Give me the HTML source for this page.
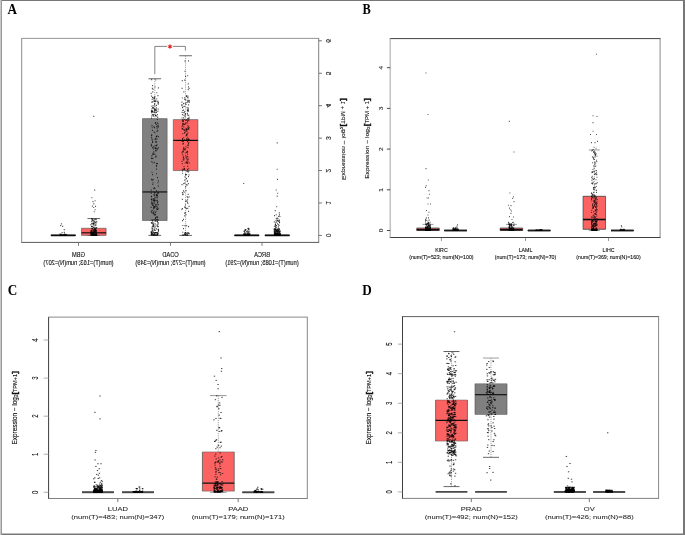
<!DOCTYPE html>
<html><head><meta charset="utf-8"><style>
html,body{margin:0;padding:0;background:#fff;width:685px;height:535px;overflow:hidden}
svg{display:block}
text{font-family:"Liberation Sans",sans-serif}
</style></head><body>
<svg width="685" height="535" viewBox="0 0 685 535">
<defs><filter id="bl" x="0" y="0" width="1" height="1"><feGaussianBlur stdDeviation="0.35"/></filter></defs>
<g filter="url(#bl)">
<rect width="685" height="535" fill="#fff"/>
<g transform="matrix(-1,0,0,1,340.4,0)">
<rect x="50.9" y="235.4" width="24.6" height="0.01" fill="#fb6464"/>
<line x1="50.9" y1="235.4" x2="75.5" y2="235.4" stroke="#555" stroke-width="0.64" />
<line x1="50.9" y1="235.4" x2="75.5" y2="235.4" stroke="#555" stroke-width="0.64" />
<line x1="50.9" y1="235.4" x2="50.9" y2="235.4" stroke="#555" stroke-width="0.64" />
<line x1="75.5" y1="235.4" x2="75.5" y2="235.4" stroke="#555" stroke-width="0.64" />
<line x1="50.9" y1="235.4" x2="75.5" y2="235.4" stroke="#111" stroke-width="1.2" />
<line x1="50.9" y1="235.4" x2="75.5" y2="235.4" stroke="#111" stroke-width="1.7" />
<path d="M60.61,234.45h1M62.3,235.29h1M65.39,232.52h1M60.41,234.97h1M60.08,233.79h1M61.5,234.06h1M61.43,230.87h1M63.71,235.28h1M62.44,233.29h1M65.66,232.2h1M60.4,234.9h1M62.4,235.16h1M65.01,234.34h1M61.28,233.14h1M63.41,233.88h1M62.09,234.24h1M60.02,234.4h1M60.59,232.74h1M62.6,234.03h1M65.41,235.33h1M63.88,227.83h1M61.04,234.43h1M62.81,234.73h1M62.38,220.28h1M60.93,234.82h1M63.66,235.15h1M64.5,234.42h1M60.61,235.03h1M62.99,234.37h1M64.93,234.12h1M62.21,234.64h1M65.21,234.16h1M64.5,235.39h1M64.41,233.69h1M64.26,233.59h1M62.9,234.07h1M65.36,233.62h1M63.72,235.18h1M65.51,226.25h1M62.29,234.92h1M62.34,233.71h1M65.53,229.91h1M65.17,234.16h1M60.05,235.14h1M64.84,235.15h1M60.48,234.61h1M61.53,234.48h1M59.79,234.66h1M62.29,229.42h1M64.69,234.39h1M64.15,235.19h1M61.15,234.57h1M62.98,218.05h1M62.72,234h1M59.83,235.28h1M64.97,231.09h1M64.71,235.27h1M64.71,233.91h1M59.89,234.72h1M63.78,232.54h1M60.1,232.01h1M65.55,230.7h1M60.16,232.27h1M61.31,235.22h1M60.41,234.03h1M65.51,229.4h1M62.84,234.98h1M65.09,234.72h1M61.76,234.99h1M63.98,222.72h1M62.27,234.34h1M61.29,234.66h1M65.18,232.47h1M63.57,230.49h1M64.13,234.52h1M62.7,142.97h1M62.2,193.24h1" stroke="#000" stroke-width="1.2" fill="none" opacity="0.72"/>
<path d="M60.13,232.14h1M60.24,235.19h1M62.08,233.34h1M64.6,234.49h1M60.94,235.22h1M63.89,229.82h1M60.41,214.79h1M63.14,230.3h1M65.37,229.08h1M61.41,229.37h1M64.31,235.23h1M65,233.78h1M60.61,220.18h1M62.21,235.39h1M60.02,231.73h1M63.51,235.09h1M60.61,235.4h1M61.78,234.66h1M60.31,235.15h1M60.58,233.84h1M61.9,234.63h1M65.61,229.54h1M59.87,234.35h1M65.63,221.86h1M65.1,232.58h1M64.39,224.07h1M62.08,218.47h1M64.54,224.47h1M59.79,235.01h1M60.97,229.3h1M65.16,235.01h1M62.89,233.92h1M62.54,234.89h1M63.06,235.09h1M62.36,223.85h1M65.35,233.99h1M60.52,229.08h1M65.08,229.99h1M65.42,234.75h1M61.73,233.88h1M61.69,235.35h1M61.29,235.09h1M61.25,229.42h1M62.25,231.54h1M64.88,235.2h1M61.13,233.85h1M61.44,230.38h1M63.01,230.81h1M64.71,233.94h1M63.52,231.24h1M60.68,234.65h1M62.46,234.54h1M65.49,234.68h1M62.73,234.81h1M61.1,234.5h1M61.66,234.25h1M63.46,225.51h1M64.66,229.65h1M61.86,235.01h1M59.72,233.96h1M61.21,230.75h1M62,233.94h1M61.22,234.97h1M63.85,231.8h1M60.9,225.37h1M61.31,234.07h1M60.5,220.58h1M59.85,233.97h1M64.74,234.47h1M61.44,224.73h1M59.99,234.59h1M60.84,233.89h1M63,221.56h1M59.99,234.56h1M61.26,216.46h1M62.7,169.24h1M62.7,196.16h1" stroke="#000" stroke-width="1.2" fill="none" opacity="0.72"/>
<path d="M61.89,233.82h1M64.66,234.15h1M59.98,216.48h1M63.19,234.87h1M62.27,231.66h1M63.15,234.68h1M64.24,234.17h1M61.58,226.85h1M63.68,234h1M63.71,234.26h1M61.19,235.02h1M64.88,229.41h1M61.09,234.88h1M63.1,234.31h1M64.38,224.9h1M60.1,235.22h1M61.88,235.1h1M60.44,234.33h1M61.29,234.39h1M59.86,233.8h1M64.33,234.91h1M64.54,228.7h1M61.38,235.32h1M61.89,220.4h1M62.58,229.07h1M62.57,230.53h1M65.38,234.22h1M64.66,234.97h1M63.6,218.8h1M61.46,234.66h1M62.45,234.36h1M59.81,233.86h1M63.04,230.94h1M61.36,234.67h1M62.73,232.76h1M64.96,231.36h1M62.35,235.04h1M64,234.94h1M62.62,234.23h1M61.61,234.82h1M62.77,232.58h1M64.37,235.28h1M65.22,234.96h1M65.33,235.19h1M61.73,234.06h1M60.67,235.08h1M60.77,233.93h1M62.55,234.84h1M62.74,234.24h1M61.79,234.21h1M64.75,235.15h1M62.37,234.94h1M61.84,234.49h1M61.29,235.39h1M62.88,233.2h1M60.6,212.82h1M64.57,230.8h1M65.06,233.23h1M64.71,235.09h1M64.19,229.76h1M61.29,235.18h1M63.8,233.99h1M61.53,230.65h1M61.45,231.74h1M65.32,215.67h1M65.37,234.78h1M62.75,229.4h1M62.65,235.39h1M64.2,235.39h1M62.06,234.3h1M64.71,235.1h1M65.44,234.3h1M60,231.03h1M60.46,222.69h1M61.51,232.06h1M62.5,179.3h1" stroke="#000" stroke-width="1.2" fill="none" opacity="0.72"/>
<path d="M62.74,235.23h1M61.04,235.04h1M61.44,228.23h1M61.93,232.34h1M63.21,234.47h1M64.95,233.85h1M62.63,234.95h1M63.27,231.42h1M63.91,235.22h1M62.47,235.33h1M64.93,234.25h1M62.19,234.58h1M62.61,234.71h1M63.84,220.56h1M64.49,226.93h1M60.67,234.78h1M64.95,235.32h1M65.66,228.93h1M60.67,229.26h1M65.57,233.84h1M64.37,233.83h1M64.14,229.43h1M63.86,234.64h1M61.06,234.75h1M64.5,232.11h1M64.43,234.87h1M60.72,230.94h1M63.64,214.73h1M65.3,233.85h1M63.22,234.69h1M65.13,233.24h1M60.8,234.1h1M62.81,234.44h1M62.75,230.17h1M63.86,233.89h1M61.26,221.44h1M61.14,235.19h1M60.56,231.99h1M64.69,210.59h1M59.82,230.99h1M65.61,235.21h1M60.48,234.6h1M63.9,233.44h1M64.51,232.41h1M65.26,233.73h1M60.91,235.25h1M59.81,234.38h1M60.34,222.05h1M65.59,231.55h1M60.48,235.24h1M63.72,227.25h1M65.47,234.62h1M61.99,235.4h1M62.1,235.14h1M63.65,230.53h1M63.56,230.95h1M62.84,234.99h1M63.86,231.62h1M63.47,233.64h1M62.91,233.92h1M60.93,230.87h1M63.4,230.26h1M59.77,233.49h1M62.49,233.88h1M62.45,235.35h1M63.19,234.78h1M63.92,225.93h1M61.51,234.07h1M60.42,229.09h1M63.24,206.74h1M65.31,234.56h1M64.57,226.14h1M62.41,230.82h1M61.76,234.01h1M62.07,233.66h1M63.7,190h1" stroke="#000" stroke-width="1.2" fill="none" opacity="0.72"/>
<rect x="81.3" y="235.4" width="24.6" height="0.01" fill="#808080"/>
<line x1="81.3" y1="235.4" x2="105.9" y2="235.4" stroke="#555" stroke-width="0.64" />
<line x1="81.3" y1="235.4" x2="105.9" y2="235.4" stroke="#555" stroke-width="0.64" />
<line x1="81.3" y1="235.4" x2="81.3" y2="235.4" stroke="#555" stroke-width="0.64" />
<line x1="105.9" y1="235.4" x2="105.9" y2="235.4" stroke="#555" stroke-width="0.64" />
<line x1="81.3" y1="235.4" x2="105.9" y2="235.4" stroke="#111" stroke-width="1.2" />
<line x1="81.3" y1="235.4" x2="105.9" y2="235.4" stroke="#111" stroke-width="1.7" />
<path d="M91.07,235.04h1M90.94,234.43h1M95.42,234.17h1M91.77,235.27h1M91.59,234.81h1M94.36,235.33h1M95.23,232.55h1M94.43,230.67h1M95.62,234.9h1M90.52,235.16h1M92.86,234.75h1M94.33,229.5h1M95.65,233.96h1M94.53,233.02h1M94.66,234.92h1M95.79,233.96h1M92.46,235.27h1M95.72,235h1M90.12,235.03h1M95.03,234.63h1M96.2,183.51h1" stroke="#000" stroke-width="1.2" fill="none" opacity="0.72"/>
<path d="M95.54,234.95h1M90.64,234.98h1M92.58,233.78h1M90.86,228.81h1M92.78,234.54h1M92.94,231.42h1M91.59,228.37h1M94.69,234h1M91.92,234h1M93.6,234.27h1M93.97,229.67h1M90.23,234.74h1M90.3,234.91h1M91.33,234.31h1M95.81,234.76h1M92.46,235.08h1M95.4,231.38h1M90.29,233.79h1M92.21,234.8h1M92.69,232.61h1" stroke="#000" stroke-width="1.2" fill="none" opacity="0.72"/>
<path d="M91.42,234.33h1M90.65,234.66h1M93.25,234.51h1M93.88,234.31h1M95.19,230.15h1M90.1,234.13h1M91.03,235.16h1M93.41,234.41h1M91.61,235.12h1M91.44,234.56h1M92.95,231.61h1M94.15,234.32h1M92.62,234.67h1M91.97,228.6h1M91.22,234.33h1M95.94,234.94h1M96.09,233.82h1M92.37,233.96h1M90.84,230h1M92.94,235.29h1" stroke="#000" stroke-width="1.2" fill="none" opacity="0.72"/>
<path d="M96.08,231.24h1M91.65,234.88h1M92.13,234.59h1M91.4,231.95h1M90.23,231.79h1M95.66,234.55h1M94.19,234.27h1M94.79,235.31h1M94.29,234.02h1M90.16,234.1h1M91.58,234.89h1M91.64,234.49h1M91.29,233.92h1M91.48,232.64h1M92.6,234.92h1M90.41,235.09h1M92.08,230.83h1M92.09,234.59h1M91.34,229.15h1M95.62,234.59h1" stroke="#000" stroke-width="1.2" fill="none" opacity="0.72"/>
<line x1="154.8" y1="55.74" x2="154.8" y2="119.62" stroke="#444" stroke-width="0.5" stroke-dasharray="1.2,1"/>
<line x1="154.8" y1="235.4" x2="154.8" y2="170.54" stroke="#444" stroke-width="0.5" stroke-dasharray="1.2,1"/>
<line x1="148.45" y1="55.74" x2="161.15" y2="55.74" stroke="#444" stroke-width="0.8" />
<line x1="148.45" y1="235.4" x2="161.15" y2="235.4" stroke="#444" stroke-width="0.8" />
<rect x="142.5" y="119.62" width="24.6" height="50.92" fill="#fb6464"/>
<line x1="142.5" y1="119.62" x2="167.1" y2="119.62" stroke="#555" stroke-width="0.64" />
<line x1="142.5" y1="170.54" x2="167.1" y2="170.54" stroke="#555" stroke-width="0.64" />
<line x1="142.5" y1="119.62" x2="142.5" y2="170.54" stroke="#555" stroke-width="0.64" />
<line x1="167.1" y1="119.62" x2="167.1" y2="170.54" stroke="#555" stroke-width="0.64" />
<line x1="142.5" y1="140.38" x2="167.1" y2="140.38" stroke="#111" stroke-width="1.2" />
<path d="M153.3,184.75h1M151.06,233.14h1M155.17,80.04h1M155.29,97.73h1M152.46,154.07h1M156.32,110.06h1M156.17,183.68h1M157.91,102.07h1M153.68,174.48h1M152.77,107.67h1M157.14,194.66h1M155.43,111.94h1M152.77,232.78h1M153.92,104.35h1M153.33,178.61h1M153.02,234.66h1M151.35,226.62h1M152.7,151.26h1M157.97,104.6h1M156.67,149.58h1M157.33,128.7h1M157.45,138.62h1M157.82,88.44h1M151.79,109.82h1M153.56,178.49h1M154.76,232.73h1M152.87,129.83h1M155.18,233.88h1M151.39,143.61h1M151.21,129.05h1M151.61,83.96h1M157.68,141.36h1M151.77,118.81h1M152.55,180.94h1M157.23,125.46h1M154.71,103.45h1M152.56,113.36h1M150.96,120.16h1M150.61,162.98h1M152.28,199.97h1M154.92,176.96h1M151.7,172.14h1M155.37,234.65h1M157.29,170.91h1M154.68,234.6h1M151.89,111.29h1M156.85,234.99h1M150.89,174.96h1M153.83,135.91h1M150.71,102.52h1M153.03,102.51h1M156.81,144.06h1M155.21,180.03h1M151.65,159.1h1M154.97,225.58h1M157.59,98h1M156.71,129.24h1M153.74,162.2h1M154.33,76.42h1M155.81,158.86h1M152.1,235.32h1M154.26,186.87h1M154.29,123.82h1M153.23,129.76h1M152.55,181.49h1M156.18,137.76h1M156.09,126.92h1M152.36,101.85h1M153.02,171.14h1" stroke="#000" stroke-width="1.2" fill="none" opacity="0.72"/>
<path d="M150.82,100.29h1M152.5,97.26h1M155.9,169.07h1M150.78,88.34h1M154.25,148.83h1M153.03,131.48h1M151.08,171.21h1M151.22,168.74h1M155.59,130.39h1M153.36,134.83h1M153.01,133.88h1M151.36,60.93h1M152,203.3h1M156.36,169.34h1M152.11,197.64h1M151.97,125.58h1M154.67,153.01h1M157.65,163.59h1M152.06,156.81h1M157.13,151.69h1M155.2,215.88h1M154.23,207.64h1M150.99,142.46h1M152.24,114.91h1M153.44,138.89h1M150.88,118.64h1M154.91,150.02h1M152.34,141.65h1M153.79,200.86h1M156.35,121h1M157.97,105.54h1M151.82,97.79h1M152.63,100.35h1M152.96,139.88h1M156.41,190.81h1M157.13,133.73h1M154.87,61.2h1M152.48,110.44h1M151.71,233.21h1M150.76,127.67h1M152.11,132.98h1M155.32,213.06h1M153.19,135.21h1M154.53,232.55h1M151.65,89.68h1M152.82,163.38h1M154.04,120.02h1M156.15,160.22h1M154.47,114.57h1M152.35,169.29h1M157.32,173.24h1M156.95,123.97h1M157.34,220.56h1M150.91,233.54h1M156.65,156.86h1M152.12,208.34h1M152.73,129.46h1M152.5,234.04h1M155.18,106.29h1M152.2,137.24h1M157.84,118.02h1M156.76,158.82h1M155.31,207.17h1M153.52,152.29h1M154.31,99.74h1M155.38,119.23h1M153.85,190.61h1M152.83,185.12h1M151.79,138.54h1" stroke="#000" stroke-width="1.2" fill="none" opacity="0.72"/>
<path d="M156.61,151.14h1M157.25,119.85h1M152.64,162.52h1M154.12,174.56h1M151.95,96.2h1M153.28,162.15h1M154.69,233.2h1M154.29,212.8h1M156.87,119.79h1M152.07,120.62h1M157.94,152.92h1M156.66,143.42h1M154.92,71.27h1M151.38,86.93h1M155.04,169.95h1M152.11,163.04h1M151.27,128.83h1M154.79,163.02h1M152.11,121.45h1M151.8,145.1h1M154.33,155.96h1M157.75,112.42h1M153.47,96.46h1M156.86,151.9h1M152.43,202.21h1M151.47,108.02h1M155.48,149.34h1M156.37,117.84h1M153.87,214.76h1M151,139.43h1M156.63,121.11h1M157.49,114.58h1M151.66,110.99h1M151.95,233.01h1M154.53,205.02h1M157.95,209.39h1M156.26,157.24h1M157.88,128.82h1M153.8,130.75h1M153.23,235.23h1M154.11,130.09h1M156.39,103.67h1M153.88,128.29h1M152.36,151.72h1M155.1,183.13h1M157.18,232.25h1M153.95,120.31h1M156.86,124.18h1M155.35,168.69h1M157.59,120.13h1M155.73,129.53h1M155.96,147.95h1M150.8,196.83h1M155.29,124.39h1M157.2,110.48h1M150.85,206.32h1M151.32,211.36h1M155.9,166.61h1M153.66,233.39h1M151.27,104.86h1M154.23,235.12h1M157.58,169.26h1M156.43,219.28h1M151.24,101.16h1M157.14,154.94h1M153.02,158.66h1M154.89,116.54h1M156.84,123.51h1M152,161.12h1" stroke="#000" stroke-width="1.2" fill="none" opacity="0.72"/>
<path d="M150.9,117.43h1M152.62,159.79h1M156.19,235.16h1M157.66,80.57h1M156.06,112.71h1M151.18,115.38h1M157.85,161.4h1M153.91,122.96h1M151.5,126.73h1M152.42,171.18h1M152.31,139.77h1M157.37,107.71h1M153.35,95.85h1M155.19,132.4h1M152.11,127.79h1M154.66,113.67h1M155.75,192.07h1M153.68,157.61h1M157.27,235.02h1M154.68,234.44h1M152.7,196.51h1M151.54,183.68h1M155.19,99.34h1M151.95,109.21h1M157.24,121.71h1M154.67,132.12h1M153.84,146.8h1M151.93,145.41h1M150.9,139.54h1M153.4,140.05h1M157.86,184.58h1M153.2,225.69h1M157.41,140.2h1M157.53,192.68h1M153.26,129.06h1M153.52,129.61h1M151.91,147.34h1M155.51,133.25h1M157.23,139.33h1M153.24,208.66h1M157.53,199.29h1M152.56,152.21h1M156.03,91.84h1M156.36,228.66h1M155.35,139.8h1M155.89,115.29h1M151.38,176.54h1M152.57,122.81h1M152.21,75.76h1M153.02,119.94h1M157.84,126.66h1M152.88,134.54h1M157.47,208.52h1M156.05,124.02h1M157.02,225.51h1M156.61,106.77h1M152.12,118.66h1M152.97,156.3h1M156.32,148.05h1M151.86,110.44h1M156.5,141.41h1M152.19,166.47h1M156.42,124.01h1M150.79,101.42h1M154.01,174.64h1M156.84,194.16h1M154.02,201.46h1M151.75,194.34h1" stroke="#000" stroke-width="1.2" fill="none" opacity="0.72"/>
<line x1="185.6" y1="78.76" x2="185.6" y2="118.65" stroke="#444" stroke-width="0.5" stroke-dasharray="1.2,1"/>
<line x1="185.6" y1="235.4" x2="185.6" y2="220.48" stroke="#444" stroke-width="0.5" stroke-dasharray="1.2,1"/>
<line x1="179.25" y1="78.76" x2="191.95" y2="78.76" stroke="#444" stroke-width="0.8" />
<line x1="179.25" y1="235.4" x2="191.95" y2="235.4" stroke="#444" stroke-width="0.8" />
<rect x="173.3" y="118.65" width="24.6" height="101.83" fill="#808080"/>
<line x1="173.3" y1="118.65" x2="197.9" y2="118.65" stroke="#555" stroke-width="0.64" />
<line x1="173.3" y1="220.48" x2="197.9" y2="220.48" stroke="#555" stroke-width="0.64" />
<line x1="173.3" y1="118.65" x2="173.3" y2="220.48" stroke="#555" stroke-width="0.64" />
<line x1="197.9" y1="118.65" x2="197.9" y2="220.48" stroke="#555" stroke-width="0.64" />
<line x1="173.3" y1="191.94" x2="197.9" y2="191.94" stroke="#111" stroke-width="1.2" />
<path d="M186.79,89.44h1M184.62,122.82h1M187.25,203.47h1M186.88,202.82h1M187.91,125.58h1M186.05,213.29h1M184.77,200.67h1M184.28,115.61h1M185.24,98.05h1M185.26,110.11h1M188.69,231.94h1M186.57,201.01h1M187.33,223.27h1M185.56,195.46h1M183.58,195.59h1M183.28,206.08h1M184.95,214.57h1M187.53,233.86h1M188.44,235.09h1M182.53,209.47h1M188.01,138.99h1M187.93,198.95h1M182.47,195.7h1M185.56,195.6h1M186.11,146.83h1M184.99,188.77h1M184.91,207.22h1M183.57,110.36h1M187.26,142.46h1M186.75,234.32h1M185.9,100.12h1M185.81,132.02h1M181.67,226.65h1M183.31,169.18h1M185.6,233.92h1M184.26,235.02h1M182.97,144.97h1M187.83,233.02h1M187.13,234.05h1M188.3,196.44h1M181.99,111.37h1M185.65,207.06h1M184.49,148.66h1M188.61,233.76h1M183.68,155.98h1M183.5,112.44h1M187.57,234.26h1M188.16,134.96h1M183.13,99.01h1M184.8,114.15h1M185.26,104.05h1M185.58,207.6h1M186.08,232.53h1M188.73,234.49h1M187.08,97.41h1M181.78,233.14h1M184.34,156.77h1M184.31,138.68h1M184,219.81h1M188.69,144.42h1M187.01,158.49h1M182.46,221.52h1M188.31,223.13h1M186.05,108.68h1M181.82,223.03h1M183.41,228.95h1M188.64,232.31h1M182.89,219.59h1M181.83,102.85h1M181.41,230.35h1M182.42,163.71h1M185.07,154.05h1M181.89,224.77h1M187.8,108.72h1M187.55,226.23h1M185.22,198.13h1M186.96,205.48h1M181.55,180.81h1M182.11,234.59h1M182.16,130.47h1M182.3,217.1h1M182.62,119.51h1M188.37,203.86h1M188.15,112.77h1M184.52,220.55h1M182.43,234.84h1M181.65,104.1h1M183.25,150.77h1" stroke="#000" stroke-width="1.2" fill="none" opacity="0.72"/>
<path d="M188.52,232.65h1M186.12,225.31h1M185.1,132.76h1M184.58,101.57h1M186.58,116.05h1M184.5,232.76h1M184.43,150.69h1M188.61,193.1h1M185.65,232.67h1M188.41,202.18h1M181.82,208.44h1M183.36,208.82h1M182.97,204.28h1M188.53,222.64h1M182.33,177.54h1M182.78,200.38h1M186.12,200.11h1M187.2,101.81h1M183.25,142.11h1M187.26,102h1M187.61,114.54h1M183.36,173.74h1M185.09,192.93h1M187.62,139.78h1M185.91,234.63h1M181.65,102.7h1M187.1,184.32h1M184.39,110.25h1M183.75,211.25h1M185.44,103.99h1M187.24,141.6h1M182.97,135.87h1M188.16,116h1M184.52,214.54h1M182.28,234.34h1M188.34,158.35h1M181.51,229.3h1M181.53,231.35h1M187.73,127.74h1M188.54,220.02h1M186.8,213.51h1M186.41,198.94h1M187.22,204.99h1M187.52,130.31h1M187.97,200.1h1M183.35,235.35h1M187.82,111.98h1M182.03,209.43h1M186.41,154.48h1M187.37,233.03h1M185.76,194.62h1M185.23,203.07h1M182.56,114.61h1M185,106.1h1M188.53,111.21h1M187.84,172.24h1M188.5,232.16h1M182.58,197.84h1M188.09,102.14h1M182.47,233.89h1M183.8,232.55h1M181.49,136.7h1M187.98,106.03h1M183.91,197.39h1M185.49,127.7h1M183.88,108.97h1M188.02,233.86h1M188.73,207.44h1M183.57,124.52h1M185.3,109.76h1M187.1,226.76h1M182.92,217.76h1M184.42,122.96h1M181.51,192.74h1M182.61,207.11h1M186.69,232.09h1M187.86,233.75h1M183.06,92.76h1M182.84,131.38h1M186.71,105.73h1M182.41,202.71h1M188.34,110.43h1M183.91,115.74h1M187.67,111.62h1M184.1,147.92h1M187.15,91.78h1M183.37,145.7h1" stroke="#000" stroke-width="1.2" fill="none" opacity="0.72"/>
<path d="M184.24,232.65h1M182.93,232.51h1M184.83,147.99h1M186.94,163.02h1M186.43,107.58h1M186.68,115.15h1M188.28,137.3h1M185.42,234.37h1M186.71,179.7h1M186.46,224.07h1M184.36,217.7h1M186.89,222.78h1M187.15,231.32h1M186.13,208.71h1M184.03,109.6h1M186.74,235.33h1M184.08,141.29h1M187.55,230.32h1M182.46,232.66h1M187.99,227.85h1M186.53,225.21h1M182.43,221.9h1M187.79,180.15h1M184.5,206.22h1M188.29,135.47h1M186.03,126.59h1M184.62,224.01h1M183.41,190.83h1M185.74,214.86h1M183.62,234.06h1M185.93,101.38h1M184.79,139.36h1M184.13,142.17h1M184.59,212.67h1M185.66,112.13h1M184.92,87.02h1M186.46,235.27h1M183.19,126.3h1M182.02,123.71h1M181.48,126.83h1M187.77,228.03h1M187.3,229.92h1M187.21,97.58h1M185.88,211.12h1M186.47,206.02h1M185.74,200.79h1M183.43,163.56h1M187.3,174.64h1M182.93,195.9h1M183.12,116.26h1M182.82,225.95h1M181.73,229.55h1M183.95,156.99h1M183.34,165.88h1M181.68,220.03h1M188.41,196.71h1M185.58,219.66h1M188.74,93.47h1M181.75,109.22h1M188.35,118.12h1M182.32,219.68h1M182.84,126.83h1M184.71,230.38h1M184.93,110.75h1M187.84,229.94h1M185.03,227.86h1M182.96,139.04h1M188.25,79.59h1M181.52,87.95h1M184.62,226.25h1M182.86,128.23h1M186.64,153.05h1M181.81,125.72h1M184.93,101.33h1M185.8,206.65h1M187.8,111.46h1M185.06,96.59h1M182.16,226.55h1M185.84,234.92h1M182.31,234.18h1M187.77,158.4h1M184.51,204.64h1M183.88,221.35h1M185.23,233.95h1M181.91,182.75h1M186.09,98.44h1M183.42,136.5h1" stroke="#000" stroke-width="1.2" fill="none" opacity="0.72"/>
<path d="M187.28,85.71h1M181.65,204.69h1M185.87,230.2h1M183.09,200.94h1M184.76,145.71h1M183.25,148.68h1M186.24,226.49h1M187.19,228.49h1M186.13,188.31h1M187.04,204.22h1M184.5,235.04h1M185.3,98.12h1M186.09,112.21h1M187.44,111.22h1M183.38,107.77h1M183.21,216.92h1M187.72,99.33h1M181.51,147.8h1M187.14,221.95h1M187.18,154.1h1M186.89,182.76h1M181.83,192.73h1M187.62,235.22h1M181.96,95.69h1M188.66,211.3h1M187.78,210.37h1M185.5,200.8h1M188.61,190.03h1M187.2,147.38h1M182.81,235.23h1M186.04,151.94h1M182.15,117.28h1M187.22,110.8h1M188.31,145.65h1M184.7,100.42h1M182.16,201.94h1M188.55,232.01h1M182.79,122.75h1M186.65,148.93h1M186.22,235h1M181.84,193.5h1M186.17,207.55h1M183.56,166.12h1M187.55,88.45h1M188.03,155.81h1M187.97,111.52h1M187.37,107.71h1M186.95,224.93h1M186.96,219.94h1M188.04,161.57h1M186.59,226.71h1M184.17,79.99h1M181.55,186.14h1M184.55,115.5h1M182.74,224.88h1M181.87,101.36h1M188.48,145.93h1M181.69,223.02h1M186.65,114.72h1M183.61,136.89h1M182.65,194.08h1M188.26,234.43h1M188.27,232.78h1M182.46,149.04h1M184.45,218.61h1M188.08,212.71h1M183.52,194.52h1M183.54,232.76h1M183.92,112.49h1M183.02,101.14h1M182.05,233.26h1M185.71,111.99h1M183.88,112.1h1M183.37,105.46h1M185.25,235.27h1M186.66,212.38h1M185.33,187.97h1M187.45,220.43h1M185.27,162.37h1M185.11,192.68h1M185.64,229.71h1M185.29,108.95h1M188.66,199.3h1M188.31,96.18h1M185.14,199.59h1M187.94,112.25h1M188.24,179.34h1" stroke="#000" stroke-width="1.2" fill="none" opacity="0.72"/>
<line x1="246.6" y1="218.54" x2="246.6" y2="228.27" stroke="#444" stroke-width="0.5" stroke-dasharray="1.2,1"/>
<line x1="246.6" y1="235.4" x2="246.6" y2="235.4" stroke="#444" stroke-width="0.5" stroke-dasharray="1.2,1"/>
<line x1="240.25" y1="218.54" x2="252.95" y2="218.54" stroke="#444" stroke-width="0.8" />
<line x1="240.25" y1="235.4" x2="252.95" y2="235.4" stroke="#444" stroke-width="0.8" />
<rect x="234.3" y="228.27" width="24.6" height="7.13" fill="#fb6464"/>
<line x1="234.3" y1="228.27" x2="258.9" y2="228.27" stroke="#555" stroke-width="0.64" />
<line x1="234.3" y1="235.4" x2="258.9" y2="235.4" stroke="#555" stroke-width="0.64" />
<line x1="234.3" y1="228.27" x2="234.3" y2="235.4" stroke="#555" stroke-width="0.64" />
<line x1="258.9" y1="228.27" x2="258.9" y2="235.4" stroke="#555" stroke-width="0.64" />
<line x1="234.3" y1="232.81" x2="258.9" y2="232.81" stroke="#111" stroke-width="1.2" />
<path d="M245.7,232.44h1M246.18,207.5h1M245.54,234.77h1M247,231.53h1M244.55,234.65h1M244.53,222.42h1M243.5,235.06h1M244.45,235.16h1M248.2,230.69h1M247.35,226.44h1M248.88,232.83h1M245.85,233.27h1M248.2,226.33h1M243.63,231.32h1M248.56,233.52h1M249.09,232.11h1M248.79,234.25h1M248.38,231.46h1M248,232.26h1M247.24,220.71h1M246.13,232.59h1M243.35,230.33h1M246.62,223.45h1M249.08,232.23h1M244.12,235.18h1M245.04,227.19h1M245.19,231.31h1M246.82,233.39h1M244.92,224.82h1M244.43,228.84h1M244.22,234.18h1M243.49,233.75h1M243.31,234.89h1M243.87,223.82h1M248.85,234h1M244.66,229.06h1M243.84,221.87h1M244.96,231.58h1M246.47,235.16h1M247.4,235.13h1M244.76,235.11h1M244.59,229.19h1M247.38,228.56h1M244.97,235.32h1M247.21,233.44h1M246.74,222.82h1M243.62,228.27h1M245.64,211.74h1M247.29,235.28h1M247.93,229.12h1M246.1,116.38h1" stroke="#000" stroke-width="1.2" fill="none" opacity="0.72"/>
<path d="M244.83,209.77h1M245.9,234.82h1M244.56,234.78h1M247.36,234.97h1M246.17,234.92h1M246.05,231.78h1M245.74,221.93h1M247.53,206.1h1M246.21,224.55h1M243.86,219.66h1M245.61,231.5h1M244.86,228.75h1M245.76,232.81h1M245.04,219.37h1M243.38,235.38h1M246.2,232.49h1M246.25,229.6h1M246.02,203.85h1M245.01,235.03h1M249.04,224.58h1M244.19,234.99h1M247.83,233.67h1M244.28,229.75h1M245.57,231.45h1M248.04,232.4h1M245.22,228.89h1M245.41,233.29h1M243.36,234.86h1M248.86,230.94h1M248.35,234.66h1M244.84,200.77h1M248.05,235.13h1M245.15,229.82h1M248.12,233.36h1M248.81,234.95h1M246.63,220.45h1M246.36,232.57h1M243.62,233.88h1M246.1,234.15h1M245.52,234.79h1M247.18,235.34h1M245.21,223.21h1M243.34,235.31h1M244.18,230.29h1M243.11,234.27h1M244.57,235.3h1M245.46,229.27h1M247.25,218.77h1M246.17,233.5h1M246.38,234.84h1" stroke="#000" stroke-width="1.2" fill="none" opacity="0.72"/>
<path d="M246.99,234.7h1M243.99,232.19h1M246.38,235.21h1M246.39,233.19h1M246.61,233.94h1M249.03,234.78h1M245.43,235.27h1M245.12,235.07h1M247.56,228.47h1M243.13,221.95h1M248.34,226.51h1M246.43,233.87h1M244.92,235h1M248.13,223.39h1M246.08,231.63h1M245.44,229.44h1M245.35,235.19h1M246.85,233.39h1M248.06,197.77h1M245.63,221.05h1M246.72,230.44h1M247.24,234.69h1M246.42,232.83h1M244.04,235.14h1M247.94,230.75h1M244.7,235.03h1M248.44,235.28h1M248.23,218.5h1M248.8,232.85h1M247.86,232.96h1M243.79,231.69h1M244.57,234.25h1M247.34,235.06h1M244.06,225.39h1M244.46,232.72h1M244.58,234.09h1M247.73,234.82h1M248.21,235.02h1M243.5,234.76h1M247.75,219.96h1M245.21,229.83h1M244.19,230.47h1M244.29,235.05h1M246.52,223.59h1M247.76,223.86h1M247.85,235.16h1M248.07,228.31h1M248.08,228.47h1M243.87,218.96h1M246.93,201.7h1" stroke="#000" stroke-width="1.2" fill="none" opacity="0.72"/>
<path d="M246.67,235.14h1M243.89,235.13h1M246.76,223.58h1M245.91,230.76h1M245.22,235.37h1M247.73,234.76h1M247.51,233.39h1M247.15,234.24h1M245.95,227.76h1M246.62,227.45h1M245.38,230.86h1M245.03,233.93h1M246.55,235.09h1M244.33,206.33h1M247.74,219.37h1M246.67,234.19h1M246.47,233.77h1M245.16,190.06h1M243.76,232.58h1M244.84,235.06h1M249.06,234.23h1M244.93,235.39h1M246.98,234.82h1M243.74,227.77h1M243.17,235.27h1M248.52,235.18h1M248.86,231.3h1M248.49,234.61h1M245.44,234.87h1M244.14,234.87h1M245.41,232.19h1M244.8,234.99h1M244.72,235.2h1M247.43,234.24h1M243.89,233.27h1M244.38,230.84h1M247.05,233.93h1M247.08,234.55h1M244.46,234.64h1M248.27,221.33h1M247.05,233.66h1M248.58,235.15h1M245.38,234.72h1M244.63,228.87h1M243.36,234.78h1M248.59,234.95h1M243.64,234.79h1M245.82,230.48h1M243.36,227.64h1M244.6,232.01h1" stroke="#000" stroke-width="1.2" fill="none" opacity="0.72"/>
<rect x="264.9" y="235.4" width="24.6" height="0.01" fill="#808080"/>
<line x1="264.9" y1="235.4" x2="289.5" y2="235.4" stroke="#555" stroke-width="0.64" />
<line x1="264.9" y1="235.4" x2="289.5" y2="235.4" stroke="#555" stroke-width="0.64" />
<line x1="264.9" y1="235.4" x2="264.9" y2="235.4" stroke="#555" stroke-width="0.64" />
<line x1="289.5" y1="235.4" x2="289.5" y2="235.4" stroke="#555" stroke-width="0.64" />
<line x1="264.9" y1="235.4" x2="289.5" y2="235.4" stroke="#111" stroke-width="1.2" />
<line x1="264.9" y1="235.4" x2="289.5" y2="235.4" stroke="#111" stroke-width="1.7" />
<path d="M275.65,235.35h1M274.79,235.21h1M277.17,235.28h1M276.41,234.91h1M275.08,235.35h1M274.24,235.11h1M277.17,226.28h1M277.77,232.68h1M278.73,235.38h1M278.81,235.26h1M279.2,225.67h1" stroke="#000" stroke-width="1.2" fill="none" opacity="0.72"/>
<path d="M274.49,235.07h1M276.29,234.98h1M279.03,235.13h1M279.15,234.78h1M278.19,235.24h1M273.08,235.34h1M276.62,235.31h1M279.92,234.89h1M275.19,234.07h1M278.49,234.23h1M275.7,229.56h1" stroke="#000" stroke-width="1.2" fill="none" opacity="0.72"/>
<path d="M274.01,235.15h1M275.6,232.4h1M278.63,234.96h1M275.14,235.31h1M273.84,235.04h1M278.55,223.96h1M274.4,235.05h1M274.86,234.87h1M277.72,235.25h1M274.37,235.14h1" stroke="#000" stroke-width="1.2" fill="none" opacity="0.72"/>
<path d="M277.96,234.83h1M279.55,235.16h1M277.93,235.26h1M274.53,235.11h1M276.47,235.14h1M278.31,235.33h1M273.06,234.96h1M274.03,235.2h1M279.86,233.96h1M275.37,234.31h1" stroke="#000" stroke-width="1.2" fill="none" opacity="0.72"/>
<line x1="21.2" y1="38.4" x2="319.2" y2="38.4" stroke="#8a8a8a" stroke-width="0.9" />
<line x1="21.2" y1="242.4" x2="319.2" y2="242.4" stroke="#5a5a5a" stroke-width="1" />
<line x1="21.7" y1="38.4" x2="21.7" y2="242.4" stroke="#808080" stroke-width="1" />
<line x1="318.7" y1="38.4" x2="318.7" y2="242.4" stroke="#8a8a8a" stroke-width="1" />
<line x1="18.4" y1="235.4" x2="21.7" y2="235.4" stroke="#555" stroke-width="0.8" />
<text transform="translate(11.9,235.4) scale(1.12,1) rotate(-90)" font-size="6.8" text-anchor="middle" dy="0.35em" fill="#111" stroke="#111" stroke-width="0.08">0</text>
<line x1="18.4" y1="202.97" x2="21.7" y2="202.97" stroke="#555" stroke-width="0.8" />
<text transform="translate(11.9,202.97) scale(1.12,1) rotate(-90)" font-size="6.8" text-anchor="middle" dy="0.35em" fill="#111" stroke="#111" stroke-width="0.08">1</text>
<line x1="18.4" y1="170.54" x2="21.7" y2="170.54" stroke="#555" stroke-width="0.8" />
<text transform="translate(11.9,170.54) scale(1.12,1) rotate(-90)" font-size="6.8" text-anchor="middle" dy="0.35em" fill="#111" stroke="#111" stroke-width="0.08">2</text>
<line x1="18.4" y1="138.11" x2="21.7" y2="138.11" stroke="#555" stroke-width="0.8" />
<text transform="translate(11.9,138.11) scale(1.12,1) rotate(-90)" font-size="6.8" text-anchor="middle" dy="0.35em" fill="#111" stroke="#111" stroke-width="0.08">3</text>
<line x1="18.4" y1="105.68" x2="21.7" y2="105.68" stroke="#555" stroke-width="0.8" />
<text transform="translate(11.9,105.68) scale(1.12,1) rotate(-90)" font-size="6.8" text-anchor="middle" dy="0.35em" fill="#111" stroke="#111" stroke-width="0.08">4</text>
<line x1="18.4" y1="73.25" x2="21.7" y2="73.25" stroke="#555" stroke-width="0.8" />
<text transform="translate(11.9,73.25) scale(1.12,1) rotate(-90)" font-size="6.8" text-anchor="middle" dy="0.35em" fill="#111" stroke="#111" stroke-width="0.08">5</text>
<line x1="18.4" y1="40.82" x2="21.7" y2="40.82" stroke="#555" stroke-width="0.8" />
<text transform="translate(11.9,40.82) scale(1.12,1) rotate(-90)" font-size="6.8" text-anchor="middle" dy="0.35em" fill="#111" stroke="#111" stroke-width="0.08">6</text>
<line x1="78.4" y1="242.4" x2="78.4" y2="246" stroke="#666" stroke-width="0.8" />
<text transform="translate(78.4,256.9) scale(0.88,1)" font-size="6.5" text-anchor="middle" fill="#111" stroke="#111" stroke-width="0.12">BRCA</text>
<text transform="translate(78.4,264.7) scale(0.88,1)" font-size="6.5" text-anchor="middle" fill="#111" stroke="#111" stroke-width="0.12">(num(T)=1085; num(N)=291)</text>
<line x1="169.9" y1="242.4" x2="169.9" y2="246" stroke="#666" stroke-width="0.8" />
<text transform="translate(169.9,256.9) scale(0.88,1)" font-size="6.5" text-anchor="middle" fill="#111" stroke="#111" stroke-width="0.12">COAD</text>
<text transform="translate(169.9,264.7) scale(0.88,1)" font-size="6.5" text-anchor="middle" fill="#111" stroke="#111" stroke-width="0.12">(num(T)=275; num(N)=349)</text>
<line x1="261.9" y1="242.4" x2="261.9" y2="246" stroke="#666" stroke-width="0.8" />
<text transform="translate(261.9,256.9) scale(0.88,1)" font-size="6.5" text-anchor="middle" fill="#111" stroke="#111" stroke-width="0.12">GBM</text>
<text transform="translate(261.9,264.7) scale(0.88,1)" font-size="6.5" text-anchor="middle" fill="#111" stroke="#111" stroke-width="0.12">(num(T)=163; num(N)=207)</text>
<text transform="translate(-1.2,139.1) scale(0.9,1) rotate(-90)" font-size="6.85" text-anchor="middle" fill="#111" stroke="#111" stroke-width="0.12">Expression − log<tspan font-size="4.79" dy="1.51">2</tspan><tspan dy="-1.51" font-weight="bold" font-size="8.22" stroke-width="0.45">[</tspan><tspan font-size="6.03" dy="0.41">TPM + 1</tspan><tspan font-weight="bold" font-size="8.22" stroke-width="0.45" dy="-0.41">]</tspan></text>
</g>
<path d="M154.8,74.1V46.4H167.2M172.8,46.4H185.4V50.6" fill="none" stroke="#666" stroke-width="0.8"/>
<circle cx="170" cy="46.6" r="1.3" fill="#e0201b"/>
<g stroke="#e0201b" stroke-width="0.8" stroke-linecap="round"><path d="M170,44.6V48.6M168.2,45.6L171.8,47.6M168.2,47.6L171.8,45.6"/></g>
<line x1="428" y1="224.4" x2="428" y2="228.06" stroke="#444" stroke-width="0.5" stroke-dasharray="1.2,1"/>
<line x1="428" y1="230.5" x2="428" y2="230.5" stroke="#444" stroke-width="0.5" stroke-dasharray="1.2,1"/>
<line x1="422.5" y1="224.4" x2="433.5" y2="224.4" stroke="#555" stroke-width="0.6" />
<line x1="422.5" y1="230.5" x2="433.5" y2="230.5" stroke="#555" stroke-width="0.6" />
<rect x="416.75" y="228.06" width="22.5" height="2.44" fill="#fb6464"/>
<line x1="416.75" y1="228.06" x2="439.25" y2="228.06" stroke="#3a3a3a" stroke-width="0.8" />
<line x1="416.75" y1="230.5" x2="439.25" y2="230.5" stroke="#3a3a3a" stroke-width="0.8" />
<line x1="416.75" y1="228.06" x2="416.75" y2="230.5" stroke="#3a3a3a" stroke-width="0.72" />
<line x1="439.25" y1="228.06" x2="439.25" y2="230.5" stroke="#3a3a3a" stroke-width="0.72" />
<line x1="416.75" y1="229.69" x2="439.25" y2="229.69" stroke="#111" stroke-width="1.6" />
<path d="M427.82,230h0.9M428.62,226.82h0.9M425.37,229.71h0.9M425.94,229.9h0.9M428.39,230.12h0.9M425.81,224.6h0.9M427.34,230.06h0.9M425.26,226.94h0.9M426.51,229.07h0.9M428.38,230.38h0.9M425.89,230.34h0.9M426.26,229.78h0.9M425.37,229.7h0.9M425.55,227.64h0.9M427.88,222.7h0.9M428.04,230.48h0.9M427.88,225.68h0.9M429.24,228.64h0.9M425.47,229.64h0.9M427.27,230.24h0.9M427.83,230.25h0.9M429.15,228.52h0.9M425.13,227.08h0.9M427,226.49h0.9M425.18,229.7h0.9M427.96,230.49h0.9M426.37,228.76h0.9M425.13,219.95h0.9M426.41,230.01h0.9M427.6,227.87h0.9M430.09,230.06h0.9M429.48,230.49h0.9M426.55,230.09h0.9M425.88,230.39h0.9M427.47,230.41h0.9M426.09,228.33h0.9M429.96,227.94h0.9M427.74,230.24h0.9M427.06,229.05h0.9M427.52,230.05h0.9M425.24,220.46h0.9M425.42,227.51h0.9M426.67,229.67h0.9M430.03,227.44h0.9M428.36,229.85h0.9M425.65,230.46h0.9M425.87,230.3h0.9M427.54,221.02h0.9M428.76,230.35h0.9M429.73,229.94h0.9M426.01,230.19h0.9M429.44,230.29h0.9M429.58,229.84h0.9M429.54,230.22h0.9M425.08,230.1h0.9M425.83,230.37h0.9M425.12,221.31h0.9M425.5,229.92h0.9M427.18,230.32h0.9M427.53,230.02h0.9M425.87,230.13h0.9M425.01,230.01h0.9M428.68,225.61h0.9M425.69,229.94h0.9M426.2,229.99h0.9M425.55,72.99h0.9M425.85,185.73h0.9M426.65,197.94h0.9M426.05,210.56h0.9M428.05,217.88h0.9" stroke="#000" stroke-width="1.1" fill="none" opacity="0.72"/>
<path d="M429.27,230h0.9M429.86,224.56h0.9M425.8,228.54h0.9M424.96,228.08h0.9M427.14,229.8h0.9M427.25,230.1h0.9M429.68,222.22h0.9M428.12,228.69h0.9M429.55,230.03h0.9M427.97,230h0.9M427.8,225.07h0.9M427.83,229.84h0.9M425.33,229.95h0.9M428.7,220.12h0.9M425.66,227.41h0.9M426.51,230.21h0.9M429.48,224.14h0.9M426.89,230.33h0.9M429.13,229.76h0.9M427.97,226.58h0.9M428.52,230.11h0.9M425.02,223.08h0.9M429.21,230.25h0.9M428.13,225.65h0.9M426.83,230.27h0.9M425.06,230.05h0.9M427.55,230.13h0.9M428.96,229.74h0.9M429.49,227.14h0.9M426.77,229.23h0.9M426.86,229.85h0.9M427.27,229.89h0.9M427.82,228.04h0.9M430.08,229.71h0.9M426.38,224.76h0.9M425.99,229.96h0.9M425.36,229.67h0.9M428.28,225.57h0.9M426.71,228.66h0.9M426.29,229.69h0.9M428.72,229.5h0.9M427.15,226.9h0.9M426.29,227.85h0.9M426.4,229.89h0.9M426.83,227.42h0.9M427.56,230.42h0.9M429.74,227.89h0.9M426.74,229.22h0.9M428.31,230.41h0.9M428.21,223.21h0.9M428.29,227.61h0.9M426.34,225.78h0.9M428.5,230.28h0.9M429.01,230.01h0.9M430.02,230.35h0.9M425.42,228.61h0.9M429.07,230.18h0.9M430.1,230.47h0.9M428.51,230.26h0.9M426.77,224.1h0.9M425.31,230.14h0.9M428.35,228.54h0.9M426.6,229.96h0.9M424.98,219.28h0.9M425.55,230.23h0.9M427.55,114.5h0.9M425.05,187.36h0.9M428.05,197.94h0.9M428.55,212.19h0.9" stroke="#000" stroke-width="1.1" fill="none" opacity="0.72"/>
<path d="M425.16,230.18h0.9M427.55,229.83h0.9M429.99,229.9h0.9M429.4,226.55h0.9M427.23,230.04h0.9M426.76,229.74h0.9M430.02,225.91h0.9M427.92,230.1h0.9M425.93,230.46h0.9M427.71,229.94h0.9M429.43,230.35h0.9M427.93,230.19h0.9M429.44,229.9h0.9M429.27,230.36h0.9M425.25,227.39h0.9M427.17,228.29h0.9M428.83,230.27h0.9M429.88,227.9h0.9M429.76,230.35h0.9M425.06,230.35h0.9M425.7,229.98h0.9M425.73,230.04h0.9M426.99,228.65h0.9M426.66,230.4h0.9M427.95,229.87h0.9M430.08,229.88h0.9M427.91,230.14h0.9M428.98,225.67h0.9M428.49,223.42h0.9M427.06,229.75h0.9M426.17,230.17h0.9M426.52,229.73h0.9M426.72,223.46h0.9M428.98,230.02h0.9M425.07,230.15h0.9M429.44,229.65h0.9M429.5,226.96h0.9M426.05,223.96h0.9M427.1,230.42h0.9M425.02,229.87h0.9M425.44,230.05h0.9M428.01,229.77h0.9M428.92,228.23h0.9M429.84,229.79h0.9M426.14,220.24h0.9M425.9,229.75h0.9M425.1,230.28h0.9M427.34,227.07h0.9M429.44,229.95h0.9M426.26,230.2h0.9M430.12,230.1h0.9M429.23,227.71h0.9M427.31,229.69h0.9M425.9,225.98h0.9M429.69,230.49h0.9M429.73,230.04h0.9M425.15,228.52h0.9M429.52,230.07h0.9M428.79,230.3h0.9M429.98,230.21h0.9M427.6,230.44h0.9M427.8,229.76h0.9M430.01,229.93h0.9M429.77,229.58h0.9M429.03,226.52h0.9M425.55,168.64h0.9M428.55,190.61h0.9M427.55,204.04h0.9M427.55,215.03h0.9" stroke="#000" stroke-width="1.1" fill="none" opacity="0.72"/>
<path d="M428.22,229.73h0.9M426.51,230.29h0.9M425.16,230.38h0.9M427.16,227.25h0.9M429.25,228.83h0.9M425.39,230.23h0.9M428.17,222.64h0.9M427.45,222.94h0.9M427.28,228.66h0.9M427.01,229.73h0.9M425.44,230.16h0.9M427.62,230.35h0.9M428.67,229.75h0.9M425.84,229.97h0.9M426.89,230.18h0.9M428.18,225.12h0.9M428.92,230.04h0.9M425.18,228.1h0.9M426.27,228.71h0.9M429.11,230.35h0.9M427.75,225.57h0.9M429.49,229.82h0.9M425.77,229.85h0.9M429.6,230.21h0.9M426.79,229.97h0.9M425.71,230.44h0.9M429.93,229.78h0.9M428.25,229.25h0.9M428.92,230.09h0.9M426.7,230.42h0.9M425.66,230.03h0.9M425.29,230.27h0.9M427.98,224.01h0.9M429.47,229.92h0.9M426.34,230.28h0.9M425.97,229.06h0.9M425.66,230.04h0.9M428.85,230.06h0.9M428.21,230.44h0.9M427.88,223.88h0.9M425.69,230.29h0.9M428.37,229.75h0.9M426.56,227.39h0.9M425,230.32h0.9M425.42,227.65h0.9M426.85,223.39h0.9M426.21,227.37h0.9M429.65,230.06h0.9M427.88,230.42h0.9M427.21,230.14h0.9M427.91,230.21h0.9M426.67,230.12h0.9M429.54,229.71h0.9M430.12,225.96h0.9M428.78,230.3h0.9M429.54,228.17h0.9M426.15,229.82h0.9M427.48,230.34h0.9M425.53,229.82h0.9M428.75,225.31h0.9M427.84,229.95h0.9M430.06,228.51h0.9M426.95,229.97h0.9M428.13,230.15h0.9M425.21,224.45h0.9M427.85,180.03h0.9M428.95,194.28h0.9M430.05,204.04h0.9M426.05,217.88h0.9" stroke="#000" stroke-width="1.1" fill="none" opacity="0.72"/>
<rect x="444.35" y="230.5" width="22.5" height="0.01" fill="#808080"/>
<line x1="444.35" y1="230.5" x2="466.85" y2="230.5" stroke="#3a3a3a" stroke-width="0.8" />
<line x1="444.35" y1="230.5" x2="466.85" y2="230.5" stroke="#3a3a3a" stroke-width="0.8" />
<line x1="444.35" y1="230.5" x2="444.35" y2="230.5" stroke="#3a3a3a" stroke-width="0.72" />
<line x1="466.85" y1="230.5" x2="466.85" y2="230.5" stroke="#3a3a3a" stroke-width="0.72" />
<line x1="444.35" y1="230.5" x2="466.85" y2="230.5" stroke="#111" stroke-width="1.6" />
<line x1="444.35" y1="230.5" x2="466.85" y2="230.5" stroke="#1a1a1a" stroke-width="1.4" />
<path d="M454.1,229.75h0.9M455.21,228.42h0.9M454.51,229.73h0.9M455.83,230.26h0.9M453,230.26h0.9M457.08,230.31h0.9M457.14,230.09h0.9M455.28,229.04h0.9M456.94,229.98h0.9M454.19,230.1h0.9M453.8,229.72h0.9M454.69,230.28h0.9M453.92,229.73h0.9M453.3,227.55h0.9M454.43,229.61h0.9M454.92,230h0.9M457.1,229.94h0.9M456.77,229.45h0.9M455.54,229.65h0.9M455.65,230.05h0.9M458.08,230.49h0.9M454.67,229.95h0.9M452.46,230.28h0.9M453.35,229.06h0.9M454.09,229.89h0.9" stroke="#000" stroke-width="1.1" fill="none" opacity="0.72"/>
<path d="M455.44,229.8h0.9M458.12,229.86h0.9M455.83,229.93h0.9M457.6,230.21h0.9M455.32,227.52h0.9M455.99,230h0.9M452.89,228.86h0.9M452.68,230.01h0.9M453.05,229.58h0.9M452.26,230.09h0.9M453.6,230.15h0.9M455.86,229.17h0.9M456.04,230.06h0.9M456.42,226.2h0.9M455.13,229.93h0.9M454.64,228.59h0.9M456.59,229.77h0.9M453.47,230.37h0.9M456.24,230.44h0.9M457.05,224.9h0.9M453.72,230.2h0.9M453.98,230.44h0.9M454.39,229.92h0.9M455.49,227.62h0.9M456.93,230.2h0.9" stroke="#000" stroke-width="1.1" fill="none" opacity="0.72"/>
<path d="M457.98,230.16h0.9M455.93,230.25h0.9M454.08,229.77h0.9M456.48,229.99h0.9M455.31,229.93h0.9M457.51,228.74h0.9M453.66,230.33h0.9M458.13,230.07h0.9M454.35,229.76h0.9M455.57,230.28h0.9M452.7,228.66h0.9M452.41,230.1h0.9M454.26,228.94h0.9M456.14,230.1h0.9M456.69,227.84h0.9M457.49,229.99h0.9M452.39,230.06h0.9M457.05,230.42h0.9M455.05,229.73h0.9M453.02,228.2h0.9M453.68,230.16h0.9M456.96,228.26h0.9M455.08,230h0.9M454.04,230.44h0.9M456.41,230.18h0.9" stroke="#000" stroke-width="1.1" fill="none" opacity="0.72"/>
<path d="M456.63,230.5h0.9M454.42,229.69h0.9M455.41,229.82h0.9M455.01,229.93h0.9M453.58,228.91h0.9M452.41,228.25h0.9M454.29,230.39h0.9M454.85,229.75h0.9M453.58,229.93h0.9M453.22,230.44h0.9M457.3,229.81h0.9M454.35,230.02h0.9M455.62,230.08h0.9M452.57,230.14h0.9M455.71,230.47h0.9M455.1,230.02h0.9M455.47,229.76h0.9M452.68,230.39h0.9M456.3,230.44h0.9M455.26,230.14h0.9M455.48,228.36h0.9M453.69,228.38h0.9M454.34,229.87h0.9M454.6,229.92h0.9M455.7,229.05h0.9" stroke="#000" stroke-width="1.1" fill="none" opacity="0.72"/>
<line x1="511.4" y1="224.4" x2="511.4" y2="228.06" stroke="#444" stroke-width="0.5" stroke-dasharray="1.2,1"/>
<line x1="511.4" y1="230.5" x2="511.4" y2="230.5" stroke="#444" stroke-width="0.5" stroke-dasharray="1.2,1"/>
<line x1="505.9" y1="224.4" x2="516.9" y2="224.4" stroke="#555" stroke-width="0.6" />
<line x1="505.9" y1="230.5" x2="516.9" y2="230.5" stroke="#555" stroke-width="0.6" />
<rect x="500.15" y="228.06" width="22.5" height="2.44" fill="#fb6464"/>
<line x1="500.15" y1="228.06" x2="522.65" y2="228.06" stroke="#3a3a3a" stroke-width="0.8" />
<line x1="500.15" y1="230.5" x2="522.65" y2="230.5" stroke="#3a3a3a" stroke-width="0.8" />
<line x1="500.15" y1="228.06" x2="500.15" y2="230.5" stroke="#3a3a3a" stroke-width="0.72" />
<line x1="522.65" y1="228.06" x2="522.65" y2="230.5" stroke="#3a3a3a" stroke-width="0.72" />
<line x1="500.15" y1="229.69" x2="522.65" y2="229.69" stroke="#111" stroke-width="1.6" />
<path d="M513.21,228.82h0.9M508.72,224.83h0.9M511.86,227.02h0.9M508.85,230.13h0.9M509.16,226.88h0.9M510.01,228.09h0.9M513.45,225.57h0.9M510.77,230.15h0.9M513.53,224.12h0.9M508.83,224.05h0.9M512.99,229.5h0.9M513.26,229.23h0.9M512.45,229.84h0.9M510.75,227.93h0.9M510.3,229.19h0.9M510.85,224.7h0.9M510.78,230.06h0.9M509.01,229.75h0.9M512.46,228.69h0.9M510.39,230.39h0.9M512.43,227.94h0.9M511.95,227.67h0.9M510.49,223.93h0.9M509.08,229.23h0.9M510.94,228.73h0.9M508.85,121.42h0.9M512.25,198.35h0.9M508.95,208.12h0.9M508.95,216.66h0.9M512.55,222.36h0.9" stroke="#000" stroke-width="1.1" fill="none" opacity="0.72"/>
<path d="M512.92,228.85h0.9M509.29,227.93h0.9M509.45,229.41h0.9M513.29,225.74h0.9M511.97,230.29h0.9M509.15,228.34h0.9M508.52,229.05h0.9M510.59,226.39h0.9M511.09,223.94h0.9M512.84,228.71h0.9M509.53,225.03h0.9M508.61,227.23h0.9M508.71,229.4h0.9M511.02,230.38h0.9M509.2,227.15h0.9M508.84,229.95h0.9M511.13,229.89h0.9M512.88,229.61h0.9M511.93,228.23h0.9M509.87,228.58h0.9M508.67,226.6h0.9M510.13,225.39h0.9M508.81,228.99h0.9M509.49,229.77h0.9M513.07,225.8h0.9M513.55,151.95h0.9M513.55,201.6h0.9M509.95,209.74h0.9M513.05,217.07h0.9" stroke="#000" stroke-width="1.1" fill="none" opacity="0.72"/>
<path d="M510.61,230.29h0.9M511.27,224.13h0.9M509.11,225.11h0.9M511.78,228.97h0.9M512.7,230.35h0.9M510.04,224.26h0.9M511.68,229.09h0.9M508.94,226.97h0.9M510.16,229.42h0.9M511.16,227.91h0.9M508.52,224.11h0.9M510.69,229.27h0.9M508.85,228.36h0.9M511.71,230.14h0.9M513.25,229.87h0.9M508.96,224.64h0.9M510.26,228.62h0.9M512.98,228.64h0.9M512.25,229.65h0.9M508.79,224.51h0.9M511.47,229.59h0.9M510.75,225.44h0.9M512.17,229.59h0.9M513.43,229.28h0.9M511.66,226.12h0.9M509.45,193.06h0.9M507.95,205.27h0.9M511.05,210.96h0.9M511.55,219.51h0.9" stroke="#000" stroke-width="1.1" fill="none" opacity="0.72"/>
<path d="M508.6,227.43h0.9M510.94,225.55h0.9M509.43,224.19h0.9M513.06,229.55h0.9M509.56,229.41h0.9M509.14,225.08h0.9M511.19,229.67h0.9M508.99,225.23h0.9M510.93,226.13h0.9M509.08,230.17h0.9M513.38,227.9h0.9M512.21,229.58h0.9M512.45,228.45h0.9M511.36,230.01h0.9M512.73,229.27h0.9M511.14,228.66h0.9M510.45,229.77h0.9M513.26,230.44h0.9M509.72,229.93h0.9M509.57,228.13h0.9M508.56,223.05h0.9M508.41,224.15h0.9M509.14,226.97h0.9M512.47,222.47h0.9M511.6,229.76h0.9M513.05,196.72h0.9M510.55,205.67h0.9M510.55,213.41h0.9M507.95,222.36h0.9" stroke="#000" stroke-width="1.1" fill="none" opacity="0.72"/>
<rect x="527.85" y="230.5" width="22.5" height="0.01" fill="#808080"/>
<line x1="527.85" y1="230.5" x2="550.35" y2="230.5" stroke="#3a3a3a" stroke-width="0.8" />
<line x1="527.85" y1="230.5" x2="550.35" y2="230.5" stroke="#3a3a3a" stroke-width="0.8" />
<line x1="527.85" y1="230.5" x2="527.85" y2="230.5" stroke="#3a3a3a" stroke-width="0.72" />
<line x1="550.35" y1="230.5" x2="550.35" y2="230.5" stroke="#3a3a3a" stroke-width="0.72" />
<line x1="527.85" y1="230.5" x2="550.35" y2="230.5" stroke="#111" stroke-width="1.6" />
<line x1="527.85" y1="230.5" x2="550.35" y2="230.5" stroke="#1a1a1a" stroke-width="1.4" />
<path d="M540.89,230.12h0.9M535.8,230.16h0.9M538.15,230.23h0.9M535.65,229.72h0.9M536.6,230.29h0.9M540.08,230.14h0.9M539.39,230.35h0.9M538.02,230.13h0.9" stroke="#000" stroke-width="1.1" fill="none" opacity="0.72"/>
<path d="M540.35,230.46h0.9M542.06,230.13h0.9M540.87,230.13h0.9M540.89,229.54h0.9M541.83,230.28h0.9M541.19,229.75h0.9M540.94,230.12h0.9M538.32,230.23h0.9" stroke="#000" stroke-width="1.1" fill="none" opacity="0.72"/>
<path d="M536.02,230.34h0.9M540.56,230.05h0.9M537.08,230.11h0.9M541.29,230.39h0.9M540.29,230.19h0.9M535.43,230.32h0.9M538.56,230.5h0.9" stroke="#000" stroke-width="1.1" fill="none" opacity="0.72"/>
<path d="M540,229.56h0.9M541.01,230.12h0.9M538.9,229.6h0.9M536.29,230.4h0.9M540.86,230.32h0.9M541.27,230.2h0.9M535.61,230.49h0.9" stroke="#000" stroke-width="1.1" fill="none" opacity="0.72"/>
<line x1="594.3" y1="149.91" x2="594.3" y2="196.31" stroke="#444" stroke-width="0.5" stroke-dasharray="1.2,1"/>
<line x1="594.3" y1="230.5" x2="594.3" y2="229.28" stroke="#444" stroke-width="0.5" stroke-dasharray="1.2,1"/>
<line x1="588.8" y1="149.91" x2="599.8" y2="149.91" stroke="#555" stroke-width="0.6" />
<line x1="588.8" y1="230.5" x2="599.8" y2="230.5" stroke="#555" stroke-width="0.6" />
<rect x="583.05" y="196.31" width="22.5" height="32.97" fill="#fb6464"/>
<line x1="583.05" y1="196.31" x2="605.55" y2="196.31" stroke="#3a3a3a" stroke-width="0.8" />
<line x1="583.05" y1="229.28" x2="605.55" y2="229.28" stroke="#3a3a3a" stroke-width="0.8" />
<line x1="583.05" y1="196.31" x2="583.05" y2="229.28" stroke="#3a3a3a" stroke-width="0.72" />
<line x1="605.55" y1="196.31" x2="605.55" y2="229.28" stroke="#3a3a3a" stroke-width="0.72" />
<line x1="583.05" y1="219.51" x2="605.55" y2="219.51" stroke="#111" stroke-width="1.6" />
<path d="M592.19,225.94h0.9M593.51,200.84h0.9M592.52,229.6h0.9M593.85,223.64h0.9M590.95,216.99h0.9M594.16,230.01h0.9M594.57,230.13h0.9M594.87,217.45h0.9M594.18,202.48h0.9M591.74,226.34h0.9M595.28,223.72h0.9M594.71,153.18h0.9M591.89,228.21h0.9M591.89,176.18h0.9M596.53,156.32h0.9M592.46,229.97h0.9M595.81,221.46h0.9M594.84,214.06h0.9M592.46,207.43h0.9M592.36,228.67h0.9M592.73,229.96h0.9M595.26,163.75h0.9M593.97,216.56h0.9M595.89,219.31h0.9M595.81,190.23h0.9M595.71,196.96h0.9M591.34,228.3h0.9M596.6,203.18h0.9M594.6,230.48h0.9M595.75,230.31h0.9M595.55,229.44h0.9M593.88,230.36h0.9M594.36,218.39h0.9M591.36,150.91h0.9M592.05,225.7h0.9M595.03,229.53h0.9M596.29,161.53h0.9M594.61,198.91h0.9M591.97,230.28h0.9M595.46,229.75h0.9M591.58,229.87h0.9M596.43,200h0.9M591.02,229.85h0.9M591.2,220.93h0.9M594.66,220.12h0.9M592.11,229.88h0.9M591.26,198.68h0.9M593.69,201.69h0.9M593.23,229.38h0.9M595.61,153.74h0.9M594.65,166.55h0.9M595.07,154.58h0.9M596.26,174.24h0.9M595.59,210.74h0.9M591.09,196.78h0.9M591.59,222.28h0.9M591.54,180.78h0.9M590.99,193.34h0.9M594.49,223.13h0.9M591.13,199.4h0.9M595.05,221.79h0.9M594.74,152.42h0.9M593.34,229.28h0.9M596.11,192.37h0.9M594.07,224.7h0.9M596.25,223.13h0.9M592.46,230.43h0.9M595.32,196.68h0.9M594.68,157.05h0.9M591.03,230.17h0.9M595.41,228.36h0.9M591.5,198.32h0.9M595.61,179.72h0.9M594.35,204.73h0.9M594.25,205.38h0.9M595.14,224.84h0.9M595.57,229.29h0.9M593.07,224.04h0.9M591.12,229.35h0.9M591.96,220.31h0.9M594.17,164.81h0.9M591.59,179.26h0.9M592.49,230.09h0.9M594.8,229.5h0.9M593.94,205.32h0.9M594.73,209.77h0.9M592,172.18h0.9M591.76,221.89h0.9M596.45,230.44h0.9M592.21,208.26h0.9M593.31,226.47h0.9M594.47,230.5h0.9M596.52,229.91h0.9M592.55,122.64h0.9M591.05,142.59h0.9" stroke="#000" stroke-width="1.1" fill="none" opacity="0.72"/>
<path d="M595.85,225.23h0.9M595.63,204.57h0.9M593.05,158.9h0.9M593.89,159.44h0.9M596.43,229.64h0.9M593.93,178.57h0.9M596.51,221.7h0.9M593.84,171.47h0.9M595.31,221.55h0.9M596.12,160.22h0.9M592.58,206.38h0.9M594.87,187.64h0.9M595.74,212.54h0.9M591.94,197.39h0.9M592.74,229.59h0.9M593.19,223.65h0.9M595.47,206.79h0.9M592.55,195.9h0.9M591.19,192.94h0.9M594.13,230.16h0.9M596.56,206.08h0.9M593.23,225.69h0.9M596.18,203.79h0.9M594.3,203.94h0.9M594.84,229.76h0.9M596.05,205.7h0.9M595.73,209.92h0.9M593.04,188.08h0.9M592.55,229.82h0.9M592.25,229.96h0.9M595.82,229.48h0.9M591.32,222.48h0.9M595.98,229.39h0.9M591.73,220.38h0.9M592.59,223.31h0.9M592.49,229.54h0.9M595.12,198.86h0.9M593.01,228.74h0.9M596.16,225.17h0.9M596.7,220.63h0.9M593.9,213.63h0.9M593.48,152.51h0.9M594.35,229.45h0.9M594.05,174.35h0.9M592.36,229.5h0.9M594.35,221.21h0.9M593.27,220.66h0.9M596.22,229.81h0.9M595.73,190.3h0.9M591.23,230.31h0.9M592.48,169.56h0.9M595.63,229.59h0.9M595.89,230.49h0.9M591.26,230.12h0.9M595.66,183.72h0.9M594.12,153.65h0.9M592.71,224.68h0.9M591.61,230.13h0.9M596.27,205.72h0.9M595.88,202.73h0.9M592.69,229.18h0.9M595.37,166.04h0.9M592.29,230.4h0.9M594.04,189.26h0.9M591.88,156.68h0.9M596.56,201.9h0.9M596.69,199.48h0.9M592.44,229.29h0.9M594.76,211.05h0.9M591.77,224.92h0.9M591.53,229.63h0.9M592.94,166.01h0.9M592.56,203.67h0.9M592,204.55h0.9M591.33,229.41h0.9M595.52,229.82h0.9M593.16,227.9h0.9M593.69,206.39h0.9M591.62,221.92h0.9M593.5,229.37h0.9M592.24,230.15h0.9M593.99,162.82h0.9M593.62,168.3h0.9M591.64,224.93h0.9M593.68,230.38h0.9M595.61,229.79h0.9M594.42,229.39h0.9M595.29,229.56h0.9M593.72,229.36h0.9M592.12,183.05h0.9M594.83,225.64h0.9M593.58,228.97h0.9M595.95,54.27h0.9M592.55,131.19h0.9M594.55,142.59h0.9" stroke="#000" stroke-width="1.1" fill="none" opacity="0.72"/>
<path d="M592.64,208.44h0.9M594.91,229.91h0.9M596.11,229.41h0.9M592.05,150.27h0.9M595.64,221.29h0.9M596.34,224.33h0.9M594.78,224.91h0.9M596.61,224.84h0.9M595.18,174.02h0.9M594.36,229.79h0.9M592.64,194.34h0.9M596.54,224.18h0.9M592.96,189.41h0.9M591.26,226.86h0.9M592.09,162.81h0.9M592.5,157.25h0.9M591.83,226.75h0.9M596.27,224.87h0.9M594.24,184.2h0.9M594.88,195.72h0.9M594.96,207.08h0.9M592.98,187.51h0.9M592.91,229.85h0.9M594.28,223.27h0.9M593.85,195.66h0.9M595.03,229.86h0.9M592.19,228.38h0.9M591.37,201h0.9M593.54,230.21h0.9M592.92,207.5h0.9M594.07,187.03h0.9M595.15,207.45h0.9M595.61,148.27h0.9M594.91,221.31h0.9M595.22,229.55h0.9M595.02,213.92h0.9M592.14,230.19h0.9M594.62,229.7h0.9M593.59,187.7h0.9M595.56,170.76h0.9M592.41,229.48h0.9M593.18,197.94h0.9M591,224.24h0.9M592.83,230.15h0.9M593.17,171.69h0.9M595.05,206.86h0.9M595.09,203.47h0.9M591.31,210.32h0.9M595.25,207.09h0.9M596.35,229.33h0.9M591.06,229.75h0.9M593.92,229.7h0.9M595.71,214.32h0.9M592.64,215.29h0.9M591.66,221.15h0.9M591.5,225.27h0.9M591.81,194.35h0.9M594.42,201.65h0.9M595.57,197.92h0.9M596.04,222.22h0.9M592.83,225.43h0.9M596.72,182.59h0.9M596.29,174.78h0.9M595.74,229.99h0.9M594.72,216.64h0.9M592.18,230.06h0.9M593.49,229.64h0.9M594.96,230.36h0.9M594.98,210.43h0.9M593.81,229.95h0.9M593.32,227.2h0.9M591.13,183.31h0.9M592.05,230.45h0.9M591.51,229.8h0.9M595.89,230.43h0.9M593.07,229.21h0.9M592.25,193.98h0.9M591.24,177.4h0.9M595.08,221.08h0.9M591.34,229.92h0.9M594.21,196.85h0.9M591.94,229.33h0.9M591.38,198.04h0.9M593.74,151.49h0.9M594.07,197.2h0.9M595.24,162.29h0.9M591.43,172.36h0.9M596.4,211.78h0.9M596.45,218.43h0.9M593.6,147.18h0.9M593.12,230.39h0.9M595.08,213.77h0.9M592.55,115.73h0.9M590.05,134.45h0.9M597.05,141.37h0.9" stroke="#000" stroke-width="1.1" fill="none" opacity="0.72"/>
<path d="M592.52,230.07h0.9M595.72,230.3h0.9M596.13,209.28h0.9M591.89,183.57h0.9M592.99,229.25h0.9M594.81,173.59h0.9M593.13,207.27h0.9M595.79,230.22h0.9M591.15,196.33h0.9M591.22,212.39h0.9M593.39,215.4h0.9M594.96,200.05h0.9M593.94,229.82h0.9M593.17,227.42h0.9M593.49,226.51h0.9M596.22,229.5h0.9M593.68,195.19h0.9M592.62,216.79h0.9M596.4,225.23h0.9M595.64,222.92h0.9M593.24,192.42h0.9M596.01,229.59h0.9M593.35,230.18h0.9M595.85,228.35h0.9M596.16,172.87h0.9M594.5,200.6h0.9M591.49,229.41h0.9M592.84,182.31h0.9M595.63,214.42h0.9M594.25,226.11h0.9M595.46,230.35h0.9M593.27,211.63h0.9M592.86,157.88h0.9M593.59,200.17h0.9M593.49,218.01h0.9M595.29,154.62h0.9M595.96,230.44h0.9M592.72,149.45h0.9M591.57,230h0.9M595.72,220.44h0.9M596.22,230.4h0.9M595.83,186.54h0.9M595.51,183.62h0.9M596.08,207.95h0.9M594.38,229.99h0.9M591.34,221.87h0.9M594.72,229.33h0.9M596.67,229.33h0.9M591.49,230.31h0.9M594.85,229.43h0.9M591.55,195.19h0.9M595.51,229.98h0.9M594.55,219.28h0.9M590.99,223.54h0.9M592.15,205.59h0.9M595.88,198.15h0.9M596.63,209.63h0.9M593.59,217.64h0.9M595.81,170.58h0.9M596.42,229.62h0.9M593.52,230.04h0.9M592.54,195.89h0.9M595.42,226.2h0.9M594.59,226.79h0.9M596.39,215.95h0.9M596.21,227.82h0.9M594.96,202.17h0.9M592.46,229.48h0.9M591.32,227.17h0.9M594.94,155.59h0.9M593.53,201.92h0.9M592.26,183.87h0.9M591.87,171.84h0.9M593.17,151.91h0.9M596.54,229.86h0.9M591.6,217.37h0.9M592.22,229.55h0.9M595.8,204.33h0.9M591.63,230.04h0.9M593.67,224.94h0.9M596.53,177.32h0.9M592.18,178.19h0.9M592.79,221.35h0.9M591.01,229.62h0.9M593.84,229.36h0.9M593.08,179.35h0.9M591.16,229.44h0.9M594.89,223.34h0.9M596.7,219.82h0.9M596.53,229.39h0.9M595.75,229.71h0.9M592.34,229.83h0.9M596.55,116.54h0.9M596.05,134.45h0.9" stroke="#000" stroke-width="1.1" fill="none" opacity="0.72"/>
<rect x="611.05" y="230.5" width="22.5" height="0.01" fill="#808080"/>
<line x1="611.05" y1="230.5" x2="633.55" y2="230.5" stroke="#3a3a3a" stroke-width="0.8" />
<line x1="611.05" y1="230.5" x2="633.55" y2="230.5" stroke="#3a3a3a" stroke-width="0.8" />
<line x1="611.05" y1="230.5" x2="611.05" y2="230.5" stroke="#3a3a3a" stroke-width="0.72" />
<line x1="633.55" y1="230.5" x2="633.55" y2="230.5" stroke="#3a3a3a" stroke-width="0.72" />
<line x1="611.05" y1="230.5" x2="633.55" y2="230.5" stroke="#111" stroke-width="1.6" />
<line x1="611.05" y1="230.5" x2="633.55" y2="230.5" stroke="#1a1a1a" stroke-width="1.4" />
<path d="M620.04,230.43h0.9M621.61,230.24h0.9M621.39,229.8h0.9M623.7,229.19h0.9M620.57,230.45h0.9M623.84,230.47h0.9M622.74,230.27h0.9M621.73,230.5h0.9M621.5,230.4h0.9M621.15,230.18h0.9M620.03,230.48h0.9M622.87,230.34h0.9M624.16,230.34h0.9M623.18,230.41h0.9M620.34,230.24h0.9M620.85,225.62h0.9" stroke="#000" stroke-width="1.1" fill="none" opacity="0.72"/>
<path d="M622.26,230.27h0.9M623.79,230.32h0.9M623.92,230.48h0.9M622,230.32h0.9M622.28,230.21h0.9M620.26,230.25h0.9M623.06,230.47h0.9M622.9,230.2h0.9M620.39,229.41h0.9M623.18,230.21h0.9M621.45,230.32h0.9M620.23,230.31h0.9M623.53,230.16h0.9M620.63,230.37h0.9M622.02,230.49h0.9M621.35,226.84h0.9" stroke="#000" stroke-width="1.1" fill="none" opacity="0.72"/>
<path d="M619.63,230.11h0.9M623.65,230.21h0.9M619.44,230.45h0.9M623.39,230.13h0.9M623.84,230.15h0.9M620.63,230.2h0.9M621.71,230.23h0.9M620.25,230.22h0.9M624.16,230.32h0.9M620.46,230.44h0.9M622.26,230.47h0.9M619.44,230.29h0.9M622.52,230.22h0.9M622.36,230.14h0.9M620.71,230.18h0.9" stroke="#000" stroke-width="1.1" fill="none" opacity="0.72"/>
<path d="M620.19,230.4h0.9M620.69,229.44h0.9M620.79,230.37h0.9M621.91,230.21h0.9M620.31,229.3h0.9M621.18,230.4h0.9M623.35,230.21h0.9M623.28,229.4h0.9M620.51,230.11h0.9M620.68,230.41h0.9M622.23,229.79h0.9M620.15,230.2h0.9M624.18,230.19h0.9M623.73,230.13h0.9M619.37,230.47h0.9" stroke="#000" stroke-width="1.1" fill="none" opacity="0.72"/>
<line x1="389.7" y1="38.6" x2="660.6" y2="38.6" stroke="#404040" stroke-width="1" />
<line x1="389.7" y1="237.5" x2="660.6" y2="237.5" stroke="#404040" stroke-width="1" />
<line x1="390.2" y1="38.6" x2="390.2" y2="237.5" stroke="#b8b8b8" stroke-width="1.3" />
<line x1="660.1" y1="38.6" x2="660.1" y2="237.5" stroke="#888" stroke-width="1" />
<line x1="386.9" y1="230.5" x2="390.2" y2="230.5" stroke="#333" stroke-width="0.9" />
<text transform="translate(381.3,230.5) scale(0.8,1) rotate(-90)" font-size="6.6" text-anchor="middle" dy="0.35em" fill="#111" stroke="#111" stroke-width="0.08">0</text>
<line x1="386.9" y1="189.8" x2="390.2" y2="189.8" stroke="#333" stroke-width="0.9" />
<text transform="translate(381.3,189.8) scale(0.8,1) rotate(-90)" font-size="6.6" text-anchor="middle" dy="0.35em" fill="#111" stroke="#111" stroke-width="0.08">1</text>
<line x1="386.9" y1="149.1" x2="390.2" y2="149.1" stroke="#333" stroke-width="0.9" />
<text transform="translate(381.3,149.1) scale(0.8,1) rotate(-90)" font-size="6.6" text-anchor="middle" dy="0.35em" fill="#111" stroke="#111" stroke-width="0.08">2</text>
<line x1="386.9" y1="108.4" x2="390.2" y2="108.4" stroke="#333" stroke-width="0.9" />
<text transform="translate(381.3,108.4) scale(0.8,1) rotate(-90)" font-size="6.6" text-anchor="middle" dy="0.35em" fill="#111" stroke="#111" stroke-width="0.08">3</text>
<line x1="386.9" y1="67.7" x2="390.2" y2="67.7" stroke="#333" stroke-width="0.9" />
<text transform="translate(381.3,67.7) scale(0.8,1) rotate(-90)" font-size="6.6" text-anchor="middle" dy="0.35em" fill="#111" stroke="#111" stroke-width="0.08">4</text>
<line x1="441.4" y1="237.5" x2="441.4" y2="241" stroke="#555" stroke-width="0.6" />
<text transform="translate(441.4,251.7) scale(0.89,1)" font-size="5.9" text-anchor="middle" fill="#111" stroke="#111" stroke-width="0.12">KIRC</text>
<text transform="translate(441.4,259.1) scale(0.89,1)" font-size="5.9" text-anchor="middle" fill="#111" stroke="#111" stroke-width="0.12">(num(T)=523; num(N)=100)</text>
<line x1="525.5" y1="237.5" x2="525.5" y2="241" stroke="#555" stroke-width="0.6" />
<text transform="translate(525.5,251.7) scale(0.89,1)" font-size="5.9" text-anchor="middle" fill="#111" stroke="#111" stroke-width="0.12">LAML</text>
<text transform="translate(525.5,259.1) scale(0.89,1)" font-size="5.9" text-anchor="middle" fill="#111" stroke="#111" stroke-width="0.12">(num(T)=173; num(N)=70)</text>
<line x1="608.5" y1="237.5" x2="608.5" y2="241" stroke="#555" stroke-width="0.6" />
<text transform="translate(608.5,251.7) scale(0.89,1)" font-size="5.9" text-anchor="middle" fill="#111" stroke="#111" stroke-width="0.12">LIHC</text>
<text transform="translate(608.5,259.1) scale(0.89,1)" font-size="5.9" text-anchor="middle" fill="#111" stroke="#111" stroke-width="0.12">(num(T)=369; num(N)=160)</text>
<text transform="translate(368.6,138.6) scale(0.85,1) rotate(-90)" font-size="6.75" text-anchor="middle" fill="#111" stroke="#111" stroke-width="0.12">Expression − log<tspan font-size="4.72" dy="1.49">2</tspan><tspan dy="-1.49" font-weight="bold" font-size="8.1" stroke-width="0.45">[</tspan><tspan font-size="5.94" dy="0.4">TPM + 1</tspan><tspan font-weight="bold" font-size="8.1" stroke-width="0.45" dy="-0.4">]</tspan></text>
<rect x="82" y="492.3" width="31.8" height="0.01" fill="#fb6464"/>
<line x1="82" y1="492.3" x2="113.8" y2="492.3" stroke="#555" stroke-width="0.48" />
<line x1="82" y1="492.3" x2="113.8" y2="492.3" stroke="#555" stroke-width="0.48" />
<line x1="82" y1="492.3" x2="82" y2="492.3" stroke="#555" stroke-width="0.8" />
<line x1="113.8" y1="492.3" x2="113.8" y2="492.3" stroke="#555" stroke-width="0.8" />
<line x1="82" y1="492.3" x2="113.8" y2="492.3" stroke="#111" stroke-width="1.2" />
<line x1="82" y1="492.3" x2="113.8" y2="492.3" stroke="#4a4a4a" stroke-width="1.8" />
<path d="M98.92,492.01h1.4M101.02,492.11h1.4M95.07,491.41h1.4M99.77,491.86h1.4M94.15,492.21h1.4M97.96,492.14h1.4M97.77,490.56h1.4M96.53,491.86h1.4M98.88,490.67h1.4M94.79,492.03h1.4M99.15,491.77h1.4M100.52,485.96h1.4M97.46,490.19h1.4M94.75,490.54h1.4M101.02,486.18h1.4M100.8,480.55h1.4M96.65,489.5h1.4M93.99,489.53h1.4M99.53,492.01h1.4M99.32,491.86h1.4M99.1,491.47h1.4M94.98,491.73h1.4M99.35,492.01h1.4M99.52,492.28h1.4M96.02,491.85h1.4M98.4,491.61h1.4M99.44,490.04h1.4M95.76,491.13h1.4M99.35,485.6h1.4M99.69,491.73h1.4M93.03,491.75h1.4M96.34,491.48h1.4M99.26,487.14h1.4M97.06,491.23h1.4M98.92,484.13h1.4M93.61,491.57h1.4M94.73,489.11h1.4M95.46,491.96h1.4M101.22,492.06h1.4M100.44,489.64h1.4M101.2,487.12h1.4M98.1,491.58h1.4M95.79,492.29h1.4M100.76,490.84h1.4M100.18,491.84h1.4M98.76,489.17h1.4M94.55,491.89h1.4M94.5,492.16h1.4M101.11,491.37h1.4M101.31,490.38h1.4M100.41,492.04h1.4M96.33,486.58h1.4M96.02,492.05h1.4M96.34,491.08h1.4M97.16,491.4h1.4M95.73,491.42h1.4M100.83,491.69h1.4M94.5,492.26h1.4M99.14,489.97h1.4M94.5,491.57h1.4M101.4,490.87h1.4M94.23,492.11h1.4M96.24,491.56h1.4M94.14,492h1.4M99.76,491.56h1.4M100.36,485.32h1.4M99.86,492.29h1.4M99.21,490.99h1.4M95.17,491.66h1.4M99.47,491.76h1.4M93.53,486.43h1.4M96.56,490.91h1.4M96.69,487.91h1.4M94.69,490.12h1.4M97.83,491.58h1.4M93.84,491.43h1.4M93.95,489.88h1.4M100.29,492.15h1.4M101.01,491.72h1.4M94.24,491.73h1.4M98.19,486.96h1.4M100.84,492.13h1.4M100.92,483.62h1.4M99.4,418.82h1.4M97.3,463.75h1.4M96.8,470.6h1.4" stroke="#000" stroke-width="1" fill="none" opacity="0.72"/>
<path d="M94.82,492.29h1.4M94.11,482.41h1.4M93.54,492.21h1.4M95.81,490.03h1.4M96.19,490.43h1.4M99.03,491.98h1.4M94.5,492.07h1.4M99.17,491.16h1.4M100.74,490.79h1.4M100.08,489.49h1.4M98.16,492.21h1.4M94.54,491.48h1.4M93.73,489.44h1.4M97,491.76h1.4M93.72,490.77h1.4M96.9,492.08h1.4M96.27,492.15h1.4M93.42,492.12h1.4M95.77,491.58h1.4M100.76,487.36h1.4M93.94,489.97h1.4M96.93,491.87h1.4M94.45,491.72h1.4M100.71,490.82h1.4M95.91,491.67h1.4M99.45,487.48h1.4M95.03,488.96h1.4M95.84,488.87h1.4M98.54,490.5h1.4M100.45,489.35h1.4M94.8,489.17h1.4M101.2,489.1h1.4M100.49,491.77h1.4M100.55,491.6h1.4M100.85,492.09h1.4M100.02,491.2h1.4M101.53,487.59h1.4M99.24,491.74h1.4M97.74,475.18h1.4M100.93,491.69h1.4M101.01,491.26h1.4M95.23,491.86h1.4M99.39,490.18h1.4M97.95,491.96h1.4M93.26,486.31h1.4M96.85,492.06h1.4M96.41,492.03h1.4M97.24,491.77h1.4M94.54,491.44h1.4M95.92,491.62h1.4M92.86,490.98h1.4M95.42,491.57h1.4M99.76,488.45h1.4M93.82,491.99h1.4M100.68,491.69h1.4M98.16,491.64h1.4M95.23,491.13h1.4M99.89,492.2h1.4M101.13,486.85h1.4M100.36,489.79h1.4M93.29,492.24h1.4M98.16,491.99h1.4M94.85,491.87h1.4M99.29,491.71h1.4M96.77,490.96h1.4M97.74,486.73h1.4M97.33,489.31h1.4M101.25,491.61h1.4M99.77,487.03h1.4M98.18,491.86h1.4M99.46,486.03h1.4M93.57,485.86h1.4M95.06,490.06h1.4M95.25,490.61h1.4M99.48,489.02h1.4M94.08,489.77h1.4M96.11,490.68h1.4M93.1,487.32h1.4M94,491.99h1.4M96.97,486.05h1.4M99.59,482.24h1.4M98.8,489.06h1.4M98.82,492.03h1.4M95.2,450.42h1.4M100.3,463.75h1.4M98.7,473.26h1.4" stroke="#000" stroke-width="1" fill="none" opacity="0.72"/>
<path d="M99.06,491.85h1.4M97.4,491.73h1.4M93.6,492.03h1.4M94.46,491.35h1.4M94.82,490.18h1.4M99.76,489.08h1.4M93.75,490.93h1.4M99.17,492.25h1.4M95.54,491.95h1.4M101.24,490.19h1.4M93.23,492.15h1.4M97.26,492.1h1.4M96.21,492.18h1.4M99.58,490.24h1.4M98.4,491.51h1.4M95.44,490.76h1.4M101.28,492.14h1.4M97.48,492.02h1.4M94.94,492.09h1.4M101.22,491.43h1.4M101.23,491.97h1.4M94.11,477.86h1.4M100.03,491.59h1.4M95.68,484.85h1.4M93.77,491.66h1.4M100.89,491.89h1.4M96.15,490.6h1.4M100.26,488.57h1.4M100.46,492.22h1.4M95.8,491.94h1.4M93.4,492.18h1.4M98.36,491.78h1.4M93.73,490.98h1.4M94.63,490.55h1.4M98,492.24h1.4M95.94,489.27h1.4M96.15,491.57h1.4M97.61,491.98h1.4M94.41,489.19h1.4M93.01,491.95h1.4M94.06,491.04h1.4M97.32,491.59h1.4M95.05,491.9h1.4M99.39,490.13h1.4M96.7,485.28h1.4M101.58,490.68h1.4M95.47,490.77h1.4M97.02,491.99h1.4M94.07,490.89h1.4M95.9,491.58h1.4M99.21,488.5h1.4M98.63,491.06h1.4M98.76,490.9h1.4M99.84,487.2h1.4M97.48,491.71h1.4M95.09,489.31h1.4M100.03,491.74h1.4M94.81,492.05h1.4M100.91,491.08h1.4M93.62,491.65h1.4M92.99,492.09h1.4M101.33,490.52h1.4M101.56,481.7h1.4M97.47,492.2h1.4M98.09,487.64h1.4M94.34,492.06h1.4M99.82,492.29h1.4M100.97,484.61h1.4M100.03,489.28h1.4M100.35,492.03h1.4M99.5,492.05h1.4M93.71,489.42h1.4M98.51,490.01h1.4M100.9,491.67h1.4M100.4,491.51h1.4M93.27,490.49h1.4M99.97,491.88h1.4M96.93,491.47h1.4M93.86,488.94h1.4M95,489.31h1.4M97.49,490.71h1.4M94.84,489.83h1.4M99.3,395.98h1.4M94.7,452.33h1.4M95.2,466.41h1.4M96,474.41h1.4" stroke="#000" stroke-width="1" fill="none" opacity="0.72"/>
<path d="M92.97,478.82h1.4M96.47,491.76h1.4M98.93,490.74h1.4M97.73,486.1h1.4M99.86,489.16h1.4M93.62,491.91h1.4M94.92,490.7h1.4M95.36,491.93h1.4M95.09,490.57h1.4M95.53,489.2h1.4M94.13,491.25h1.4M95.99,491.21h1.4M95.02,491.39h1.4M96.73,491.67h1.4M93.13,491.83h1.4M99.41,492.18h1.4M95.33,492.21h1.4M94.29,488.71h1.4M93.83,482.14h1.4M95.34,490.83h1.4M99.96,492.12h1.4M95.63,488.37h1.4M97.86,488.14h1.4M100.01,488.51h1.4M100.8,491.92h1.4M101.52,489.07h1.4M93.98,488.62h1.4M94.02,487.71h1.4M96.81,491.09h1.4M93.68,491.88h1.4M94.55,489.87h1.4M96.94,487.28h1.4M100.1,490.91h1.4M96,491.69h1.4M99.11,491.57h1.4M99.35,491.92h1.4M100.98,490.27h1.4M98.68,491.31h1.4M97.65,486.86h1.4M100.71,491.3h1.4M99.87,490.71h1.4M93.61,491.46h1.4M94.34,491.23h1.4M99.05,490.24h1.4M93.41,492.15h1.4M99.55,491.73h1.4M94.72,492.03h1.4M101.36,491.56h1.4M93.44,492.01h1.4M96.25,490.44h1.4M98.34,491.7h1.4M101.15,489.95h1.4M101.11,491.72h1.4M95.64,492.25h1.4M98.42,486.08h1.4M96.21,491.67h1.4M98.87,492.03h1.4M95.12,492.2h1.4M100.94,492.15h1.4M99.43,487.87h1.4M98.34,490.29h1.4M101.42,491.69h1.4M94.34,490.32h1.4M93.1,490.48h1.4M96.28,491.73h1.4M98.88,491.65h1.4M98.69,491.6h1.4M95.58,490.78h1.4M98.85,477.8h1.4M95.22,491.36h1.4M100.78,490.98h1.4M93.8,491.83h1.4M97.15,492.13h1.4M101.58,485.33h1.4M101.16,491.62h1.4M97.56,478.51h1.4M97.01,492.24h1.4M99.22,490.16h1.4M97.2,491.99h1.4M94.75,486.79h1.4M96.7,488.36h1.4M100.04,491.48h1.4M94.2,412.35h1.4M94.4,459.94h1.4M98.6,468.7h1.4" stroke="#000" stroke-width="1" fill="none" opacity="0.72"/>
<rect x="122.1" y="492.3" width="31.8" height="0.01" fill="#808080"/>
<line x1="122.1" y1="492.3" x2="153.9" y2="492.3" stroke="#555" stroke-width="0.48" />
<line x1="122.1" y1="492.3" x2="153.9" y2="492.3" stroke="#555" stroke-width="0.48" />
<line x1="122.1" y1="492.3" x2="122.1" y2="492.3" stroke="#555" stroke-width="0.8" />
<line x1="153.9" y1="492.3" x2="153.9" y2="492.3" stroke="#555" stroke-width="0.8" />
<line x1="122.1" y1="492.3" x2="153.9" y2="492.3" stroke="#111" stroke-width="1.2" />
<line x1="122.1" y1="492.3" x2="153.9" y2="492.3" stroke="#4a4a4a" stroke-width="1.8" />
<path d="M136.41,491.77h1.4M139.76,491.77h1.4M138.07,492.17h1.4M135.27,492.18h1.4M137.71,491.7h1.4M141.75,492.07h1.4M138.89,490.88h1.4M136.61,492.25h1.4M140.35,491.74h1.4M140.88,492.05h1.4M141.82,490.99h1.4M141.94,488.79h1.4M141.06,491.96h1.4M137.33,492.15h1.4M134.83,491.9h1.4" stroke="#000" stroke-width="1" fill="none" opacity="0.72"/>
<path d="M133.89,492.14h1.4M134.12,491.74h1.4M136.22,488.55h1.4M137.89,491.7h1.4M138.9,490.42h1.4M132.69,492.24h1.4M141.31,491.65h1.4M135.54,488.51h1.4M134.51,492.29h1.4M135.64,491.81h1.4M139.61,492.19h1.4M138.46,487h1.4M133.93,492.06h1.4M137.87,491.75h1.4M134.87,491.58h1.4" stroke="#000" stroke-width="1" fill="none" opacity="0.72"/>
<path d="M137.24,491.85h1.4M136.06,490h1.4M135.55,491.78h1.4M139.04,488.88h1.4M138.29,491.96h1.4M134.53,491.77h1.4M138.98,487.09h1.4M132.68,491.76h1.4M140.42,492.13h1.4M136.41,488.56h1.4M133.99,492.04h1.4M134.11,491.68h1.4M134,492.15h1.4M137.71,491.91h1.4M134.87,491.11h1.4" stroke="#000" stroke-width="1" fill="none" opacity="0.72"/>
<path d="M136.06,492.05h1.4M141.83,488.68h1.4M134.52,492.27h1.4M141.52,491.96h1.4M141.71,492.01h1.4M133.71,491.82h1.4M132.62,491.62h1.4M141.08,491.9h1.4M141.36,492.2h1.4M133.23,491.64h1.4M138.82,491.95h1.4M137.78,491.61h1.4M140.13,491.74h1.4M133.15,492.29h1.4M137.09,492.21h1.4" stroke="#000" stroke-width="1" fill="none" opacity="0.72"/>
<line x1="218.3" y1="395.6" x2="218.3" y2="451.95" stroke="#444" stroke-width="0.5" stroke-dasharray="1.2,1"/>
<line x1="218.3" y1="492.3" x2="218.3" y2="491.16" stroke="#444" stroke-width="0.5" stroke-dasharray="1.2,1"/>
<line x1="210.05" y1="395.6" x2="226.55" y2="395.6" stroke="#777" stroke-width="0.8" />
<line x1="210.05" y1="492.3" x2="226.55" y2="492.3" stroke="#777" stroke-width="0.8" />
<rect x="202.4" y="451.95" width="31.8" height="39.21" fill="#fb6464"/>
<line x1="202.4" y1="451.95" x2="234.2" y2="451.95" stroke="#555" stroke-width="0.48" />
<line x1="202.4" y1="491.16" x2="234.2" y2="491.16" stroke="#555" stroke-width="0.48" />
<line x1="202.4" y1="451.95" x2="202.4" y2="491.16" stroke="#555" stroke-width="0.8" />
<line x1="234.2" y1="451.95" x2="234.2" y2="491.16" stroke="#555" stroke-width="0.8" />
<line x1="202.4" y1="483.16" x2="234.2" y2="483.16" stroke="#111" stroke-width="1.2" />
<path d="M216.15,486.76h1.4M218.52,415.19h1.4M215.91,485.61h1.4M219.41,418.28h1.4M218.7,491.58h1.4M214.68,481.83h1.4M216.71,491.28h1.4M215.16,461.85h1.4M221.3,397.34h1.4M215.77,439.57h1.4M219.34,459.97h1.4M213.67,488.85h1.4M221.81,490.3h1.4M220.87,491.59h1.4M220.9,487.84h1.4M218.87,403.01h1.4M217.69,487.2h1.4M214.83,462.66h1.4M221.35,491.16h1.4M219.63,483.72h1.4M215.02,454.02h1.4M213.74,490.43h1.4M215.22,440.49h1.4M217.49,490.52h1.4M221.77,489.11h1.4M221.04,430.54h1.4M216.7,485.1h1.4M219.9,487.26h1.4M215.79,469.3h1.4M213.52,488.86h1.4M216.86,489.2h1.4M218.37,491.19h1.4M221.89,483.83h1.4M216.61,477.13h1.4M217.26,491.88h1.4M215.75,482.19h1.4M220.78,487.26h1.4M213.94,490.07h1.4M220.64,488.65h1.4M219.05,462.87h1.4M219.65,487.16h1.4M214.94,484.05h1.4M214.71,469.05h1.4M215.92,491.68h1.4M220.51,485h1.4M220.3,357.91h1.4M215.5,380.37h1.4" stroke="#000" stroke-width="1" fill="none" opacity="0.72"/>
<path d="M215.16,448.76h1.4M213.81,491.47h1.4M221.44,481.64h1.4M214.66,485.44h1.4M217.66,492.03h1.4M217.01,461.99h1.4M213.97,491.39h1.4M219.26,486.34h1.4M217.62,491.84h1.4M220.37,412.46h1.4M221.79,473.41h1.4M219.56,472.8h1.4M213.23,485.15h1.4M214.21,456.09h1.4M216,395.81h1.4M218.18,408.74h1.4M215.16,472.17h1.4M215.63,479.19h1.4M216.5,481.81h1.4M217.18,491.33h1.4M220.1,491.23h1.4M213.48,487.62h1.4M214.16,488.38h1.4M221.08,456.68h1.4M214.59,491.46h1.4M214.89,485.49h1.4M215.45,471.27h1.4M219.18,488.51h1.4M220.73,491.39h1.4M218.87,488.75h1.4M221.14,487.54h1.4M213.53,487.09h1.4M216.55,492.05h1.4M214.12,441.5h1.4M213.22,491.33h1.4M217.74,457.94h1.4M220.92,491.34h1.4M216.45,406.77h1.4M216.87,488.32h1.4M216.77,484.88h1.4M215.13,492.17h1.4M218.88,491.51h1.4M215.96,481.97h1.4M218.01,460.86h1.4M219.83,474.84h1.4M221,368.57h1.4M217.4,384.56h1.4" stroke="#000" stroke-width="1" fill="none" opacity="0.72"/>
<path d="M220.55,461.93h1.4M216.12,491.92h1.4M214.56,491.18h1.4M214.28,492.09h1.4M214.1,488.43h1.4M214,463.03h1.4M221.95,459.76h1.4M214.57,485.38h1.4M214.91,483.53h1.4M214.44,484.01h1.4M219.49,492.09h1.4M219.32,488.02h1.4M219.59,491.88h1.4M219.11,486.98h1.4M220.12,418.5h1.4M217.76,491.4h1.4M217.63,490.28h1.4M219.39,447.73h1.4M216.74,489.87h1.4M215.9,487.71h1.4M219.15,463.86h1.4M217.82,404.97h1.4M219.69,442.33h1.4M220.84,431.14h1.4M221.31,490.17h1.4M216.5,447.16h1.4M216.63,492.21h1.4M214.86,467.61h1.4M215.25,418.42h1.4M217.69,470.43h1.4M221.88,491.77h1.4M220.33,442.18h1.4M218.7,491.26h1.4M219.82,490.84h1.4M214,491.87h1.4M214.69,399.68h1.4M216.15,487.71h1.4M218.98,491.78h1.4M216.38,406.33h1.4M220.15,491.24h1.4M219.2,405.34h1.4M215.48,458.96h1.4M214.38,476.84h1.4M220.06,468.59h1.4M217.15,487.51h1.4M220.7,371.24h1.4M217.4,388.75h1.4" stroke="#000" stroke-width="1" fill="none" opacity="0.72"/>
<path d="M217.63,484.68h1.4M218.91,491.89h1.4M216.05,489.39h1.4M218.9,431.42h1.4M219.51,452.88h1.4M213.23,419.82h1.4M215.54,488.44h1.4M217.98,491.98h1.4M217.56,461.96h1.4M214.32,483.69h1.4M214.19,441.24h1.4M219.47,487.43h1.4M218.8,427.8h1.4M213.57,492.28h1.4M218.38,427.71h1.4M216.17,483.71h1.4M216.89,482.68h1.4M217.75,445.41h1.4M220.4,457.11h1.4M219.84,487.66h1.4M219.3,466.28h1.4M221.71,461.91h1.4M216.45,483.56h1.4M216.91,485.11h1.4M216.12,430.32h1.4M221.14,491.75h1.4M213.3,487.02h1.4M219.13,492.21h1.4M218.26,472.43h1.4M215.07,491.74h1.4M220.74,491.2h1.4M220.03,490.54h1.4M220.61,446.07h1.4M221.94,485.07h1.4M217.01,487.35h1.4M217.54,481.84h1.4M218.16,468.83h1.4M216.08,479.17h1.4M214.63,486.3h1.4M220.52,484.53h1.4M217.57,461.22h1.4M214.4,465.11h1.4M218.63,483.69h1.4M215.16,474.24h1.4M218.6,331.64h1.4M213.8,376.19h1.4" stroke="#000" stroke-width="1" fill="none" opacity="0.72"/>
<rect x="242.4" y="492.3" width="31.8" height="0.01" fill="#808080"/>
<line x1="242.4" y1="492.3" x2="274.2" y2="492.3" stroke="#555" stroke-width="0.48" />
<line x1="242.4" y1="492.3" x2="274.2" y2="492.3" stroke="#555" stroke-width="0.48" />
<line x1="242.4" y1="492.3" x2="242.4" y2="492.3" stroke="#555" stroke-width="0.8" />
<line x1="274.2" y1="492.3" x2="274.2" y2="492.3" stroke="#555" stroke-width="0.8" />
<line x1="242.4" y1="492.3" x2="274.2" y2="492.3" stroke="#111" stroke-width="1.2" />
<line x1="242.4" y1="492.3" x2="274.2" y2="492.3" stroke="#4a4a4a" stroke-width="1.8" />
<path d="M260.63,488.5h1.4M255.42,491.61h1.4M260.7,491.88h1.4M256.06,492.28h1.4M261.55,492.03h1.4M260.52,489.27h1.4M254.25,490.43h1.4M259.9,492.03h1.4M256.36,488.78h1.4M254.87,491.96h1.4M257.34,489.41h1.4M255.49,492.21h1.4M260.41,492.3h1.4" stroke="#000" stroke-width="1" fill="none" opacity="0.72"/>
<path d="M253.9,491.68h1.4M254.57,490.72h1.4M257.91,491.64h1.4M253.58,492.24h1.4M261.08,489.65h1.4M255.04,491.6h1.4M257.26,491.63h1.4M255.23,490.98h1.4M257.61,491.81h1.4M259.78,491.97h1.4M260.3,491.82h1.4M257.43,491.7h1.4M260.71,492.06h1.4" stroke="#000" stroke-width="1" fill="none" opacity="0.72"/>
<path d="M253.21,491.72h1.4M257.79,491.04h1.4M254.81,490.42h1.4M254.04,491.71h1.4M257.04,487.24h1.4M261.6,492.21h1.4M257.19,491.55h1.4M256.62,491.64h1.4M259.98,492.27h1.4M256.72,491.67h1.4M259.69,492.11h1.4M258.34,491.94h1.4" stroke="#000" stroke-width="1" fill="none" opacity="0.72"/>
<path d="M262.04,489.14h1.4M261.27,492.29h1.4M256.08,489.77h1.4M255.65,492.15h1.4M255.54,491.54h1.4M258.66,491.77h1.4M261.89,492.11h1.4M254.94,492.09h1.4M261.13,491.59h1.4M254.35,491.8h1.4M260.54,491.96h1.4M257.01,492.09h1.4" stroke="#000" stroke-width="1" fill="none" opacity="0.72"/>
<line x1="48.1" y1="317.2" x2="307.8" y2="317.2" stroke="#a0a0a0" stroke-width="1.2" />
<line x1="48.1" y1="498.5" x2="307.8" y2="498.5" stroke="#808080" stroke-width="1" />
<line x1="48.6" y1="317.2" x2="48.6" y2="498.5" stroke="#3c3c3c" stroke-width="1" />
<line x1="307.3" y1="317.2" x2="307.3" y2="498.5" stroke="#888" stroke-width="1" />
<line x1="43.6" y1="492.3" x2="48.6" y2="492.3" stroke="#999" stroke-width="0.8" />
<text transform="translate(34.9,492.3) scale(1.5,1) rotate(-90)" font-size="6" text-anchor="middle" dy="0.35em" fill="#111" stroke="#111" stroke-width="0.08">0</text>
<line x1="43.6" y1="454.23" x2="48.6" y2="454.23" stroke="#999" stroke-width="0.8" />
<text transform="translate(34.9,454.23) scale(1.5,1) rotate(-90)" font-size="6" text-anchor="middle" dy="0.35em" fill="#111" stroke="#111" stroke-width="0.08">1</text>
<line x1="43.6" y1="416.16" x2="48.6" y2="416.16" stroke="#999" stroke-width="0.8" />
<text transform="translate(34.9,416.16) scale(1.5,1) rotate(-90)" font-size="6" text-anchor="middle" dy="0.35em" fill="#111" stroke="#111" stroke-width="0.08">2</text>
<line x1="43.6" y1="378.09" x2="48.6" y2="378.09" stroke="#999" stroke-width="0.8" />
<text transform="translate(34.9,378.09) scale(1.5,1) rotate(-90)" font-size="6" text-anchor="middle" dy="0.35em" fill="#111" stroke="#111" stroke-width="0.08">3</text>
<line x1="43.6" y1="340.02" x2="48.6" y2="340.02" stroke="#999" stroke-width="0.8" />
<text transform="translate(34.9,340.02) scale(1.5,1) rotate(-90)" font-size="6" text-anchor="middle" dy="0.35em" fill="#111" stroke="#111" stroke-width="0.08">4</text>
<line x1="117.8" y1="498.5" x2="117.8" y2="502.1" stroke="#777" stroke-width="1" />
<text transform="translate(117.8,511.1) scale(1.38,1)" font-size="5.5" text-anchor="middle" fill="#222" stroke="#222" stroke-width="0.05">LUAD</text>
<text transform="translate(117.8,518.7) scale(1.38,1)" font-size="5.5" text-anchor="middle" fill="#222" stroke="#222" stroke-width="0.05">(num(T)=483; num(N)=347)</text>
<line x1="238.2" y1="498.5" x2="238.2" y2="502.1" stroke="#777" stroke-width="1" />
<text transform="translate(238.2,511.1) scale(1.38,1)" font-size="5.5" text-anchor="middle" fill="#222" stroke="#222" stroke-width="0.05">PAAD</text>
<text transform="translate(238.2,518.7) scale(1.38,1)" font-size="5.5" text-anchor="middle" fill="#222" stroke="#222" stroke-width="0.05">(num(T)=179; num(N)=171)</text>
<text transform="translate(16.6,407.85) scale(1.05,1) rotate(-90)" font-size="6.4" text-anchor="middle" fill="#111" stroke="#111" stroke-width="0.12">Expression − log<tspan font-size="4.48" dy="1.41">2</tspan><tspan dy="-1.41" font-weight="bold" font-size="7.68" stroke-width="0.45">[</tspan><tspan font-size="5.63" dy="0.38">TPM+1</tspan><tspan font-weight="bold" font-size="7.68" stroke-width="0.45" dy="-0.38">]</tspan></text>
<line x1="451.5" y1="351.54" x2="451.5" y2="400" stroke="#444" stroke-width="0.5" stroke-dasharray="1.2,1"/>
<line x1="451.5" y1="486.58" x2="451.5" y2="441.07" stroke="#444" stroke-width="0.5" stroke-dasharray="1.2,1"/>
<line x1="443.5" y1="351.54" x2="459.5" y2="351.54" stroke="#333" stroke-width="0.8" />
<line x1="443.5" y1="486.58" x2="459.5" y2="486.58" stroke="#444" stroke-width="0.8" />
<rect x="435.6" y="400" width="31.8" height="41.07" fill="#fb6464"/>
<line x1="435.6" y1="400" x2="467.4" y2="400" stroke="#555" stroke-width="0.48" />
<line x1="435.6" y1="441.07" x2="467.4" y2="441.07" stroke="#555" stroke-width="0.48" />
<line x1="435.6" y1="400" x2="435.6" y2="441.07" stroke="#555" stroke-width="0.8" />
<line x1="467.4" y1="400" x2="467.4" y2="441.07" stroke="#555" stroke-width="0.8" />
<line x1="435.6" y1="420.39" x2="467.4" y2="420.39" stroke="#111" stroke-width="1.2" />
<line x1="435.6" y1="491.9" x2="467.4" y2="491.9" stroke="#4a4a4a" stroke-width="1.8" />
<path d="M451.75,416.14h1.4M453.76,405.86h1.4M447.5,419.61h1.4M450.57,445.69h1.4M446.46,444.97h1.4M448.25,401.88h1.4M447.54,404.79h1.4M446.89,441.2h1.4M453.51,431.02h1.4M453.44,404.31h1.4M449.04,429.29h1.4M450.57,388.17h1.4M451.5,423.59h1.4M446.22,363.32h1.4M452.95,403.04h1.4M451.71,434.87h1.4M453.7,416.65h1.4M447.79,431.25h1.4M449.7,368.19h1.4M453.2,429.23h1.4M453.27,425.31h1.4M451.37,441.99h1.4M446.69,403.23h1.4M450.55,450.55h1.4M447.39,418.95h1.4M447.02,400.64h1.4M451.62,404.6h1.4M448.91,413.4h1.4M450.88,451.45h1.4M454.49,361.8h1.4M452.19,352.88h1.4M447.92,410.91h1.4M452.56,408.2h1.4M453.06,404.39h1.4M453.41,368.54h1.4M453.93,372.39h1.4M454.02,392.84h1.4M447.06,433.91h1.4M448.61,436.72h1.4M446.1,430.72h1.4M450.84,413.7h1.4M454.07,450.71h1.4M451.17,448.42h1.4M451.73,409.93h1.4M449.23,452.44h1.4M450.44,424.9h1.4M454.49,405.41h1.4M453.56,424.89h1.4M450.62,472.74h1.4M448.97,442.01h1.4M448,353.41h1.4M455.18,404.26h1.4M446.72,410.54h1.4M451.72,392.63h1.4M452.35,381.19h1.4M448.88,430.41h1.4M451.42,376.06h1.4M450.59,410.33h1.4M446.66,381.5h1.4M452.72,442.89h1.4M448.42,370.46h1.4M454.89,396.48h1.4M451.25,428.9h1.4M451.56,404.02h1.4M454.93,443.63h1.4M453.37,397.59h1.4M452.52,435.82h1.4M454.18,449.88h1.4M448.98,397.61h1.4M449.38,452.1h1.4M448.42,453.87h1.4M453.51,441.68h1.4M448.75,437.52h1.4M449.67,421.99h1.4M447.07,440.36h1.4M453.99,430.12h1.4M448.99,407.33h1.4M450.59,374.18h1.4M446.34,356.47h1.4M449.96,423h1.4M450,430.71h1.4M450.98,454.99h1.4M454.93,447.09h1.4M455.31,424.83h1.4M448.32,379.62h1.4M452.58,406.72h1.4M448.21,407.8h1.4M448.29,424.88h1.4M451.7,391.68h1.4M452.1,417.74h1.4M453.46,382.64h1.4M453.25,432.8h1.4M446.38,381.36h1.4M453.2,416.28h1.4M452.36,440.33h1.4M451.72,417.52h1.4M451.53,401.67h1.4M450.94,440.93h1.4M448.5,415.4h1.4M454.54,426.16h1.4M447.2,443.99h1.4M451.04,436.52h1.4M449.2,422.41h1.4M452.69,464.75h1.4M451.99,445.51h1.4M447.5,451.24h1.4M448.14,450.56h1.4M455.18,433.31h1.4M453.14,396.45h1.4M452.54,435.5h1.4M453.74,422.74h1.4M450.1,405.93h1.4M446.25,411.75h1.4M448.64,374.62h1.4M452.35,378.37h1.4M455.48,455.9h1.4M450.72,420.97h1.4M448.35,439.74h1.4M448.12,357.55h1.4M450.65,374.99h1.4M451.32,444.45h1.4M447.21,363.5h1.4M451.39,419.09h1.4M453.8,331.74h1.4" stroke="#000" stroke-width="1" fill="none" opacity="0.72"/>
<path d="M447.28,410.11h1.4M452.43,425.63h1.4M454.25,443.29h1.4M450.23,417.31h1.4M451.46,397.43h1.4M452.19,414.45h1.4M452.99,416.26h1.4M446.91,440.85h1.4M447.17,402.22h1.4M448.06,353.81h1.4M455.01,454.7h1.4M449.92,446.59h1.4M451.34,441.45h1.4M452.04,410.03h1.4M452.14,444.56h1.4M447.3,433.9h1.4M452.97,451.4h1.4M450.81,429.08h1.4M448.24,425.74h1.4M447.13,438.69h1.4M447.53,438.91h1.4M446.42,427.32h1.4M447.13,374.51h1.4M447.52,473.76h1.4M450.02,389.59h1.4M449.94,371.52h1.4M448.71,402.36h1.4M452.14,439.02h1.4M452.86,420.07h1.4M454.97,356.84h1.4M451.35,391.26h1.4M452.81,423.49h1.4M447.9,459.92h1.4M449.88,408.14h1.4M450.48,355.57h1.4M448.62,381.07h1.4M452.39,386.14h1.4M452.84,448.39h1.4M446.21,429.09h1.4M448.25,369.2h1.4M448.8,441.37h1.4M452.78,471.11h1.4M449.85,439.76h1.4M453.74,374.83h1.4M454.85,403.56h1.4M449.09,398.59h1.4M447.38,450.47h1.4M447.73,409.65h1.4M455.07,427.67h1.4M449.81,421.09h1.4M446.21,433.99h1.4M451.61,387.27h1.4M449.63,416.94h1.4M451.73,451.38h1.4M454.75,438.88h1.4M451.9,398.35h1.4M446.37,355.76h1.4M451.11,409.44h1.4M446.39,394.1h1.4M451.79,418.04h1.4M449.73,419.08h1.4M448.64,472.34h1.4M446.7,373.94h1.4M453.63,450.92h1.4M448.25,391.16h1.4M453.93,409.48h1.4M454.08,405.35h1.4M448.38,379.62h1.4M448.75,452.74h1.4M447.62,380.99h1.4M454.31,407.05h1.4M453.47,402.92h1.4M448.11,400.88h1.4M454.93,374.87h1.4M453.32,420.23h1.4M449.64,379.19h1.4M448.81,419.17h1.4M447.41,368.61h1.4M453.8,385.68h1.4M453.62,445.18h1.4M454.47,414.15h1.4M450.3,413.6h1.4M451.2,412.97h1.4M448.05,415.24h1.4M450.25,395.56h1.4M454.74,430.29h1.4M450.68,459.56h1.4M447.81,446h1.4M449.79,407.83h1.4M449.24,452.59h1.4M448.93,402.54h1.4M453.77,414.43h1.4M449.75,416.7h1.4M446.44,421.27h1.4M452.08,397.92h1.4M447.96,401.73h1.4M452.98,446.99h1.4M454.41,439.42h1.4M455.09,370.78h1.4M453.96,469.67h1.4M447.22,431.38h1.4M452.91,396.47h1.4M454.42,449.98h1.4M451.13,441.98h1.4M455.34,426.58h1.4M447.74,418.09h1.4M450.52,397.82h1.4M447.98,379.35h1.4M447.04,412.17h1.4M453.16,427.79h1.4M451.22,436.84h1.4M455,365.46h1.4M450.22,374.54h1.4M447.38,460.93h1.4M447.33,413.62h1.4M455.06,452.26h1.4M450.92,449.13h1.4M452.19,423.72h1.4M449.19,473.36h1.4M452.66,381.14h1.4M453.39,412.61h1.4M447.1,444.13h1.4M452.19,374.96h1.4" stroke="#000" stroke-width="1" fill="none" opacity="0.72"/>
<path d="M448.85,396.01h1.4M447.88,370.31h1.4M447.5,429.66h1.4M453.97,420.09h1.4M448.15,417.3h1.4M450.61,431.01h1.4M453.99,452.51h1.4M448.45,421.27h1.4M446.18,443.11h1.4M453.22,463.19h1.4M450.24,419.4h1.4M449.93,379.31h1.4M446.85,383.2h1.4M450.52,386.37h1.4M452.28,407.6h1.4M448.8,406.5h1.4M454.9,455.05h1.4M447.25,427.43h1.4M449.12,367.97h1.4M450.32,460.39h1.4M450.1,418.82h1.4M454.71,424.99h1.4M452.83,436.81h1.4M446.87,443.19h1.4M448.37,440.92h1.4M454.21,412.43h1.4M447.85,420.65h1.4M453.63,453.71h1.4M449.98,430.83h1.4M453.75,440.48h1.4M454.22,454.17h1.4M452.31,452.91h1.4M449.78,369.23h1.4M450.94,414.72h1.4M448.36,386.95h1.4M450.57,394.52h1.4M447.56,447.2h1.4M454.07,443.1h1.4M449.67,425.72h1.4M446.33,440.83h1.4M449.6,367.74h1.4M452.64,391.27h1.4M452.76,445.59h1.4M449.17,414.94h1.4M452.33,408.51h1.4M451.92,451.85h1.4M449.24,420.97h1.4M447.74,366.81h1.4M454.09,427.53h1.4M450.85,408.51h1.4M446.62,453.08h1.4M446.22,413.83h1.4M449.9,421.05h1.4M455.37,382.28h1.4M454.51,388.86h1.4M451.2,434.3h1.4M451.29,423.7h1.4M455,403.67h1.4M453.62,408.3h1.4M451.62,434.83h1.4M453.65,433.13h1.4M454.9,420.96h1.4M447.56,434.5h1.4M447.45,419.79h1.4M454.25,485.75h1.4M449.18,359.77h1.4M448.69,414.93h1.4M452.43,404.3h1.4M450.49,396.83h1.4M453.18,454.64h1.4M450.33,427.9h1.4M452.67,417.8h1.4M448.75,434.84h1.4M451.43,424.56h1.4M450.16,448.25h1.4M452.08,450.79h1.4M450.5,424.86h1.4M452.12,374.95h1.4M453.89,430.8h1.4M446.94,401.55h1.4M452.05,371.43h1.4M449.99,361.04h1.4M448.45,426.53h1.4M447.6,456.16h1.4M451.11,417.33h1.4M448.94,389.76h1.4M453.03,464.45h1.4M450.36,390.39h1.4M447.89,415.35h1.4M454.03,442.56h1.4M452.72,442.43h1.4M449.66,359.31h1.4M449.06,397.09h1.4M448.15,396.9h1.4M452.99,425.09h1.4M449.32,436.05h1.4M453.16,451.31h1.4M448.76,372.42h1.4M449.2,475.71h1.4M446.23,436.2h1.4M448.45,446.48h1.4M454.73,433.34h1.4M447.03,411.55h1.4M449.4,387.67h1.4M452.78,445.86h1.4M447.01,393.44h1.4M449.28,373.33h1.4M454.95,416.65h1.4M447.06,369.49h1.4M454.87,459.81h1.4M450.7,468.99h1.4M446.88,369.73h1.4M453.76,412.64h1.4M453.05,354.34h1.4M455,427.56h1.4M452.98,386.65h1.4M447.34,392.38h1.4M454.47,414.69h1.4M447.27,435.85h1.4M453.23,401.64h1.4M449.33,447.39h1.4M453.11,402.14h1.4M451.63,407.67h1.4" stroke="#000" stroke-width="1" fill="none" opacity="0.72"/>
<path d="M453.49,383.49h1.4M449.97,452.54h1.4M451.53,446.22h1.4M454.84,473.3h1.4M448.98,395.45h1.4M452.15,455.27h1.4M446.57,382.37h1.4M450.44,436.93h1.4M447.12,434.51h1.4M454.85,427.69h1.4M453.32,425.59h1.4M451.36,407.27h1.4M454.38,431.23h1.4M448.92,450.22h1.4M450.25,470.68h1.4M448.97,394.05h1.4M452.91,469.02h1.4M448.92,418.53h1.4M453.93,408.46h1.4M448.01,381.85h1.4M454.54,372.4h1.4M451.61,436.71h1.4M449.63,471.97h1.4M447.93,453.33h1.4M446.54,386.88h1.4M446.7,452.56h1.4M448.75,425.59h1.4M448.25,420.74h1.4M448.67,379.13h1.4M448.02,411.26h1.4M448.54,446.8h1.4M450.57,452.25h1.4M449.62,426.61h1.4M455.02,445.84h1.4M452.82,400.59h1.4M449.56,435.9h1.4M448.09,414.84h1.4M454.08,434.53h1.4M454.2,476.13h1.4M452.77,452.63h1.4M454.43,357.25h1.4M453.74,416.33h1.4M453.42,414.43h1.4M449.59,373.96h1.4M453.41,372.57h1.4M448.43,391.37h1.4M455.47,370.8h1.4M450.35,454.44h1.4M451.61,395.64h1.4M451.8,435.03h1.4M453.96,426.77h1.4M448.56,430.03h1.4M452.98,452.43h1.4M446.53,398.75h1.4M451.52,441.27h1.4M451.43,373.89h1.4M455.21,401.89h1.4M449.11,475.06h1.4M449.68,441.99h1.4M453.42,370.07h1.4M451.35,446.84h1.4M454,447.75h1.4M448.95,450h1.4M453.82,389.68h1.4M447.02,388.87h1.4M454.76,387.71h1.4M451.2,440.94h1.4M453.42,450.92h1.4M447.6,390.43h1.4M452.38,453.27h1.4M449.3,466.02h1.4M449.72,450.51h1.4M452.1,383.31h1.4M448.51,383.53h1.4M450.62,356.61h1.4M454.78,400.78h1.4M454.62,376.25h1.4M449.99,382.07h1.4M453.17,443.87h1.4M448.18,363.44h1.4M447.11,431.51h1.4M450.03,432.72h1.4M450.74,435.66h1.4M453.46,433.15h1.4M446.72,460.21h1.4M451.3,455.14h1.4M448.72,410.15h1.4M449.37,402.81h1.4M452.42,365.75h1.4M450.28,475.91h1.4M452.9,437.05h1.4M446.19,358.84h1.4M453.47,444.28h1.4M446.11,422.72h1.4M448.04,406.62h1.4M449.38,452.91h1.4M447.01,448.93h1.4M452.64,400.01h1.4M447.97,435.2h1.4M448.66,378.08h1.4M450.29,414h1.4M451.38,393.96h1.4M454.44,374.3h1.4M452.35,420.53h1.4M448.68,460.91h1.4M454.19,410.36h1.4M455.1,428.83h1.4M454.08,451.26h1.4M452.9,395.09h1.4M453.65,429.95h1.4M454.18,454.2h1.4M452.94,403.74h1.4M446.37,438.99h1.4M447.48,444.15h1.4M450.04,483.87h1.4M452.64,460.36h1.4M450.05,381.53h1.4M450.92,419.45h1.4M446.43,427.16h1.4M452.95,436.8h1.4M453.66,389.13h1.4M453.43,408.31h1.4M453.21,420.89h1.4" stroke="#000" stroke-width="1" fill="none" opacity="0.72"/>
<line x1="491" y1="358.04" x2="491" y2="383.75" stroke="#444" stroke-width="0.5" stroke-dasharray="1.2,1"/>
<line x1="491" y1="457.33" x2="491" y2="414.48" stroke="#444" stroke-width="0.5" stroke-dasharray="1.2,1"/>
<line x1="483" y1="358.04" x2="499" y2="358.04" stroke="#888" stroke-width="0.8" />
<line x1="483" y1="457.33" x2="499" y2="457.33" stroke="#444" stroke-width="0.8" />
<rect x="475.1" y="383.75" width="31.8" height="30.73" fill="#808080"/>
<line x1="475.1" y1="383.75" x2="506.9" y2="383.75" stroke="#555" stroke-width="0.48" />
<line x1="475.1" y1="414.48" x2="506.9" y2="414.48" stroke="#555" stroke-width="0.48" />
<line x1="475.1" y1="383.75" x2="475.1" y2="414.48" stroke="#555" stroke-width="0.8" />
<line x1="506.9" y1="383.75" x2="506.9" y2="414.48" stroke="#555" stroke-width="0.8" />
<line x1="475.1" y1="394.68" x2="506.9" y2="394.68" stroke="#111" stroke-width="1.2" />
<line x1="475.1" y1="491.9" x2="506.9" y2="491.9" stroke="#4a4a4a" stroke-width="1.8" />
<path d="M486.81,391.51h1.4M489.09,400.47h1.4M489.05,390.67h1.4M486.15,408.63h1.4M489.24,397.08h1.4M492.32,360.92h1.4M490.05,387.44h1.4M494.33,414.53h1.4M493.25,399.46h1.4M486.64,390.04h1.4M487.21,392.04h1.4M492.95,412.45h1.4M487.61,428.93h1.4M494.09,381.81h1.4M488.15,404.08h1.4M487.26,419.75h1.4M488.04,439.68h1.4M488.86,412.09h1.4M487.14,445.1h1.4M492.68,361.6h1.4M488.95,387.99h1.4M492.01,388.43h1.4M487.36,406.57h1.4M487.29,394.21h1.4M492.43,392.34h1.4M491.26,427.54h1.4M493.06,386.53h1.4M486.79,402.4h1.4M494.37,408.16h1.4M488,430.66h1.4M493.08,385.68h1.4M488.83,404.85h1.4M492.61,394.1h1.4M489.01,392.26h1.4M485.97,365.02h1.4M494.25,435.02h1.4M486.09,369.33h1.4M490.56,425.93h1.4M488.9,466.49h1.4M490,480.08h1.4" stroke="#000" stroke-width="1" fill="none" opacity="0.72"/>
<path d="M489.56,400.55h1.4M486.45,363.52h1.4M485.74,415.8h1.4M493.46,372.36h1.4M493.1,416.49h1.4M486.96,397.91h1.4M494.37,372.45h1.4M486.74,384.61h1.4M492.37,422.81h1.4M491.46,401.77h1.4M491.41,410.04h1.4M488.06,425.96h1.4M489.31,407.97h1.4M494.26,400.58h1.4M493.92,428.51h1.4M492.01,407.65h1.4M493.33,419.17h1.4M493.01,380.5h1.4M490.57,413.84h1.4M486.03,407.25h1.4M488.39,372.66h1.4M488.16,411.94h1.4M494.35,399.75h1.4M486.64,373.84h1.4M490,372.26h1.4M486.81,381.2h1.4M487.06,401.92h1.4M490.78,403.78h1.4M494.26,374.63h1.4M493.83,433.37h1.4M493.88,380.07h1.4M493.42,426.25h1.4M488.92,373.16h1.4M493.92,412.6h1.4M490.57,378.96h1.4M486.9,432.44h1.4M487.83,453.71h1.4M492.63,371.72h1.4M488.9,468.56h1.4" stroke="#000" stroke-width="1" fill="none" opacity="0.72"/>
<path d="M490.87,400.04h1.4M492.38,451.57h1.4M494.43,373.87h1.4M488,415.57h1.4M493.66,374.69h1.4M492.48,441.55h1.4M486.54,389.58h1.4M488.82,417.05h1.4M494.48,408.09h1.4M488.82,388.64h1.4M490.44,371.72h1.4M494.14,399.54h1.4M489.4,382.98h1.4M494.79,414.43h1.4M492.17,405.8h1.4M485.62,392.78h1.4M488.67,392.49h1.4M493.92,386.02h1.4M491.11,378h1.4M488.01,361.57h1.4M487.47,432.71h1.4M494.86,435.74h1.4M487.15,414.75h1.4M487.87,423.75h1.4M493.41,445.67h1.4M493.6,410.97h1.4M488.6,387.73h1.4M489.4,392.4h1.4M490.64,382.53h1.4M489.43,408.77h1.4M486.97,409.15h1.4M493.23,397.8h1.4M489.39,386.22h1.4M488.47,379.69h1.4M490.67,392.32h1.4M491.62,387.14h1.4M487.04,381.44h1.4M490.1,402.76h1.4M486.4,472.69h1.4" stroke="#000" stroke-width="1" fill="none" opacity="0.72"/>
<path d="M489.28,405.63h1.4M489.82,402.98h1.4M489.97,411.63h1.4M493.09,386.01h1.4M491.18,431.05h1.4M493.2,439.76h1.4M489.56,390.81h1.4M488.65,391.49h1.4M488.68,367.44h1.4M486.77,447.45h1.4M491.11,414.11h1.4M487.41,424.81h1.4M489.33,396.65h1.4M492.01,393.57h1.4M490.55,397.79h1.4M489.67,385.46h1.4M488.34,414.65h1.4M486.67,387.95h1.4M487.88,400.25h1.4M486.7,375.95h1.4M494.8,379.3h1.4M491.36,445.35h1.4M491.78,389.02h1.4M490.08,394.08h1.4M488.59,451.05h1.4M486.62,386.41h1.4M487.15,428.67h1.4M486.43,379.74h1.4M490.98,380.75h1.4M486.55,393.01h1.4M492.12,382.82h1.4M488.62,407.37h1.4M492.74,374.85h1.4M487.43,436.19h1.4M490.84,401.79h1.4M492.11,379.22h1.4M492.84,393.31h1.4M494.63,412.27h1.4M492.3,472.4h1.4" stroke="#000" stroke-width="1" fill="none" opacity="0.72"/>
<rect x="553.9" y="491.9" width="31.8" height="0.01" fill="#fb6464"/>
<line x1="553.9" y1="491.9" x2="585.7" y2="491.9" stroke="#555" stroke-width="0.48" />
<line x1="553.9" y1="491.9" x2="585.7" y2="491.9" stroke="#555" stroke-width="0.48" />
<line x1="553.9" y1="491.9" x2="553.9" y2="491.9" stroke="#555" stroke-width="0.8" />
<line x1="585.7" y1="491.9" x2="585.7" y2="491.9" stroke="#555" stroke-width="0.8" />
<line x1="553.9" y1="491.9" x2="585.7" y2="491.9" stroke="#111" stroke-width="1.2" />
<line x1="553.9" y1="491.9" x2="585.7" y2="491.9" stroke="#4a4a4a" stroke-width="1.8" />
<path d="M570.69,489.56h1.4M568.67,490.17h1.4M569.01,489.98h1.4M570.41,487.26h1.4M565.39,491.18h1.4M573.28,491.34h1.4M568.42,491.7h1.4M565.2,491.46h1.4M570.76,489.86h1.4M566.34,490.6h1.4M571.19,491.46h1.4M572.13,491.72h1.4M571.97,490.77h1.4M573.49,491.3h1.4M567.87,490.95h1.4M568.36,491.87h1.4M565.54,490.37h1.4M571.74,487.21h1.4M573.34,491.06h1.4M572.26,491.58h1.4M568.32,491.6h1.4M571.81,491.49h1.4M564.86,491.31h1.4M565.65,490.11h1.4M568.24,491.64h1.4M572.78,491.17h1.4M568.86,489.71h1.4M572.59,491.01h1.4M570.78,491.5h1.4M567.74,491.57h1.4M570.59,488.21h1.4M566.48,490.5h1.4M571.56,491.48h1.4M570.06,491.42h1.4M573.42,491.19h1.4M570.62,489.25h1.4M567.77,491.35h1.4M571.09,491.72h1.4M572,489.18h1.4M568.35,487.43h1.4M565.42,487.71h1.4M565.83,491.2h1.4M571.25,491.23h1.4M569.69,491.24h1.4M570.12,489.88h1.4M567.07,491.26h1.4M565.22,491.08h1.4M571.61,490.79h1.4M570.49,491.54h1.4M564.72,491.57h1.4M572.07,491.87h1.4M571.92,491.57h1.4M570.63,490.59h1.4M572.66,489.04h1.4M572.03,489.33h1.4M565.58,491.28h1.4M572.21,491.05h1.4M567.78,491.78h1.4M565.53,491.86h1.4M567.69,491.05h1.4M569.44,489.64h1.4M568.57,490.9h1.4M571.08,490.03h1.4M568.63,488.05h1.4M565.32,491.12h1.4M565.7,456.44h1.4M567.6,478.31h1.4" stroke="#000" stroke-width="1" fill="none" opacity="0.72"/>
<path d="M571.14,491.41h1.4M571.78,490.93h1.4M566.01,489.13h1.4M565.78,491.83h1.4M572.08,488.52h1.4M571.1,487.82h1.4M572.04,487.38h1.4M567.35,491.05h1.4M568.85,489.98h1.4M572.44,489.07h1.4M565.68,487.4h1.4M572.7,491.36h1.4M569.48,491.8h1.4M573.12,491.04h1.4M572.92,490.84h1.4M566.94,488h1.4M565.33,488.35h1.4M571.69,491.16h1.4M570.59,489.88h1.4M569.43,491.86h1.4M568.48,490.75h1.4M572.46,489.06h1.4M566.79,491.2h1.4M568.56,491.54h1.4M567.55,490.07h1.4M571.27,491.73h1.4M570.73,491.14h1.4M569.6,487.25h1.4M568.15,487.18h1.4M565.27,487.41h1.4M565.33,491.9h1.4M568.34,489.09h1.4M566.9,491.89h1.4M565.66,489.39h1.4M572.78,488.37h1.4M567.45,490.51h1.4M573.31,491.79h1.4M571.65,489.39h1.4M566.76,491.07h1.4M571.75,489.63h1.4M566.69,489.76h1.4M569.07,487.21h1.4M572.51,490.06h1.4M565.55,491.78h1.4M571.05,491.57h1.4M572.31,491.66h1.4M569.45,491.41h1.4M564.71,491.31h1.4M564.88,491.69h1.4M566.85,491.48h1.4M569.04,489.83h1.4M565.78,488.78h1.4M570.16,490.52h1.4M571.47,491.78h1.4M572.94,491.29h1.4M566.32,489.47h1.4M566.55,489.74h1.4M570.47,488.85h1.4M569.99,490.91h1.4M568.18,487.96h1.4M570.32,489.97h1.4M571.58,491.53h1.4M573.49,487.32h1.4M564.93,491.32h1.4M568.61,491.62h1.4M569.3,463.53h1.4M570.8,479.19h1.4" stroke="#000" stroke-width="1" fill="none" opacity="0.72"/>
<path d="M571.72,491.12h1.4M573.15,491.05h1.4M570.98,491.36h1.4M569.72,491.78h1.4M568.61,490.96h1.4M565.36,489.28h1.4M566.65,487.78h1.4M569.64,490.24h1.4M567.22,491.15h1.4M571.88,489.11h1.4M567.81,491.89h1.4M567.39,491.37h1.4M573.36,489.87h1.4M564.92,491.49h1.4M572.42,487.96h1.4M569.82,491.31h1.4M567.77,490.09h1.4M572.85,487.62h1.4M568.3,489.18h1.4M565.99,490.86h1.4M565.51,491.9h1.4M564.75,491.62h1.4M573.33,490.78h1.4M567.55,487.38h1.4M566.32,489.47h1.4M567.96,490.26h1.4M568.43,490.64h1.4M566.66,491.37h1.4M568.54,488.08h1.4M568.89,491.41h1.4M568.5,491.84h1.4M567.85,487.76h1.4M572.46,491.38h1.4M568.14,489.58h1.4M570.86,489.85h1.4M572.8,491.47h1.4M571.87,488.61h1.4M565.76,489.5h1.4M565.76,489.09h1.4M573.39,490.82h1.4M567.71,491.38h1.4M569.28,490.06h1.4M572.16,491.4h1.4M565.79,491.4h1.4M570.15,489.28h1.4M572.91,490.5h1.4M572.7,491.12h1.4M571.67,487.46h1.4M564.75,491.1h1.4M568.35,491.38h1.4M566.75,491.9h1.4M569.64,491.09h1.4M565.31,491.29h1.4M567.75,491.62h1.4M569.75,491.48h1.4M567.15,491.68h1.4M566.19,491.04h1.4M566.63,491.76h1.4M571.5,491.77h1.4M569.45,491.22h1.4M573.24,487.77h1.4M570.95,491.54h1.4M567.02,489.45h1.4M569.39,491.14h1.4M569.1,491.34h1.4M566.3,466.49h1.4M571.3,481.85h1.4" stroke="#000" stroke-width="1" fill="none" opacity="0.72"/>
<path d="M572.46,491.31h1.4M572.6,491.89h1.4M567.98,489.3h1.4M567,491.38h1.4M570,491.4h1.4M567.74,491.7h1.4M564.91,491.54h1.4M567.34,490.72h1.4M568.8,491.84h1.4M566.25,491.11h1.4M569.96,491.34h1.4M573.2,491.62h1.4M565.61,488.11h1.4M567.02,487.97h1.4M571.92,491.49h1.4M570.93,491.52h1.4M565.39,491.67h1.4M567.12,491.04h1.4M572.17,490.96h1.4M568.57,488.32h1.4M565.86,489.99h1.4M569.97,489.73h1.4M565.36,491.56h1.4M568.88,491.39h1.4M570.22,491.74h1.4M570.08,491.69h1.4M568.78,491.6h1.4M571.2,490.51h1.4M572.33,490.37h1.4M570.25,489.79h1.4M569.33,491.86h1.4M569.47,490.57h1.4M565.02,491.09h1.4M568.41,491.06h1.4M565.01,491.67h1.4M564.87,491.04h1.4M568.37,491.89h1.4M565.52,491.88h1.4M564.72,491.38h1.4M572.86,489.61h1.4M565.23,487.34h1.4M567.66,489.65h1.4M569.74,489.84h1.4M571.01,491.82h1.4M569.67,491.53h1.4M567.02,491.62h1.4M570.31,490.84h1.4M565.68,491.7h1.4M568.06,491.48h1.4M567.55,491.32h1.4M568.72,488.64h1.4M567.51,491.71h1.4M572.07,491.87h1.4M572.27,491.58h1.4M566.76,490.24h1.4M570.31,490.45h1.4M565.99,491.51h1.4M569.36,490.75h1.4M569.89,491.51h1.4M573.39,489.2h1.4M566.6,489.7h1.4M568.46,491.11h1.4M569.06,490.27h1.4M565.63,491.4h1.4M568.12,491.05h1.4M567.9,471.81h1.4M566.8,485.99h1.4" stroke="#000" stroke-width="1" fill="none" opacity="0.72"/>
<rect x="593.3" y="491.9" width="31.8" height="0.01" fill="#808080"/>
<line x1="593.3" y1="491.9" x2="625.1" y2="491.9" stroke="#555" stroke-width="0.48" />
<line x1="593.3" y1="491.9" x2="625.1" y2="491.9" stroke="#555" stroke-width="0.48" />
<line x1="593.3" y1="491.9" x2="593.3" y2="491.9" stroke="#555" stroke-width="0.8" />
<line x1="625.1" y1="491.9" x2="625.1" y2="491.9" stroke="#555" stroke-width="0.8" />
<line x1="593.3" y1="491.9" x2="625.1" y2="491.9" stroke="#111" stroke-width="1.2" />
<line x1="593.3" y1="491.9" x2="625.1" y2="491.9" stroke="#4a4a4a" stroke-width="1.8" />
<path d="M605.23,491.79h1.4M610.51,491.48h1.4M608.09,490.26h1.4M611.61,491.87h1.4M611.34,491.66h1.4M605.89,490.2h1.4M605.9,490.94h1.4M606.12,491.68h1.4M608.37,491.77h1.4M610.95,491.39h1.4M608.58,491.78h1.4M610.77,491.64h1.4M610.16,491.68h1.4M608.2,491.81h1.4M605.75,491.38h1.4M605.69,491.86h1.4M608.77,491.46h1.4M605.82,491.8h1.4M610.48,491.79h1.4M609.25,491.79h1.4M610.99,491.68h1.4M609.27,491.39h1.4M607,432.8h1.4" stroke="#000" stroke-width="1" fill="none" opacity="0.72"/>
<path d="M611.7,491.43h1.4M606,491.9h1.4M611.65,491.41h1.4M609.06,491.45h1.4M606.97,491.59h1.4M610.51,491.72h1.4M607.53,490.56h1.4M605.44,491.48h1.4M605.83,491.5h1.4M609.14,490.31h1.4M608.23,491.41h1.4M611.37,490.37h1.4M606.04,490.5h1.4M610.44,491.46h1.4M607.98,491.11h1.4M607.74,491.84h1.4M609.04,491.82h1.4M606.89,491.86h1.4M608.31,491.06h1.4M610.93,491.37h1.4M610.49,491.81h1.4M608.62,491.03h1.4" stroke="#000" stroke-width="1" fill="none" opacity="0.72"/>
<path d="M607.49,491.66h1.4M607.61,491.73h1.4M609.14,491.36h1.4M610.17,491.84h1.4M606.61,490.55h1.4M607.92,491.84h1.4M608.31,490.86h1.4M611.05,491.76h1.4M611.37,491.68h1.4M611.03,491.86h1.4M606.06,491.5h1.4M605.57,490.19h1.4M611.68,491.47h1.4M607,491.74h1.4M606.62,490.42h1.4M607.51,490.24h1.4M607.33,491.52h1.4M611.69,491.36h1.4M609.17,490.14h1.4M605.17,491.89h1.4M608.92,490.53h1.4M606.61,491.8h1.4" stroke="#000" stroke-width="1" fill="none" opacity="0.72"/>
<path d="M610.15,491.63h1.4M607.72,491.56h1.4M607.37,490.8h1.4M609.47,491.58h1.4M608.41,491.67h1.4M609.95,490.98h1.4M608.35,490.56h1.4M610.97,491.42h1.4M608.56,491.22h1.4M606.73,491.76h1.4M608.76,491.24h1.4M608.16,491.57h1.4M608.17,490.57h1.4M605.18,490.19h1.4M606.65,490.61h1.4M605.33,491.24h1.4M609.8,490.8h1.4M610.98,490.25h1.4M606.57,491.8h1.4M606.88,490.23h1.4M605.14,491.39h1.4M605.64,491.35h1.4" stroke="#000" stroke-width="1" fill="none" opacity="0.72"/>
<line x1="402" y1="316.6" x2="659.1" y2="316.6" stroke="#606060" stroke-width="1" />
<line x1="402" y1="498.4" x2="659.1" y2="498.4" stroke="#808080" stroke-width="1" />
<line x1="402.5" y1="316.6" x2="402.5" y2="498.4" stroke="#3c3c3c" stroke-width="1" />
<line x1="658.6" y1="316.6" x2="658.6" y2="498.4" stroke="#888" stroke-width="1" />
<line x1="397.9" y1="491.9" x2="402.5" y2="491.9" stroke="#999" stroke-width="0.8" />
<text transform="translate(388.9,491.9) scale(1.5,1) rotate(-90)" font-size="6" text-anchor="middle" dy="0.35em" fill="#111" stroke="#111" stroke-width="0.08">0</text>
<line x1="397.9" y1="462.35" x2="402.5" y2="462.35" stroke="#999" stroke-width="0.8" />
<text transform="translate(388.9,462.35) scale(1.5,1) rotate(-90)" font-size="6" text-anchor="middle" dy="0.35em" fill="#111" stroke="#111" stroke-width="0.08">1</text>
<line x1="397.9" y1="432.8" x2="402.5" y2="432.8" stroke="#999" stroke-width="0.8" />
<text transform="translate(388.9,432.8) scale(1.5,1) rotate(-90)" font-size="6" text-anchor="middle" dy="0.35em" fill="#111" stroke="#111" stroke-width="0.08">2</text>
<line x1="397.9" y1="403.25" x2="402.5" y2="403.25" stroke="#999" stroke-width="0.8" />
<text transform="translate(388.9,403.25) scale(1.5,1) rotate(-90)" font-size="6" text-anchor="middle" dy="0.35em" fill="#111" stroke="#111" stroke-width="0.08">3</text>
<line x1="397.9" y1="373.7" x2="402.5" y2="373.7" stroke="#999" stroke-width="0.8" />
<text transform="translate(388.9,373.7) scale(1.5,1) rotate(-90)" font-size="6" text-anchor="middle" dy="0.35em" fill="#111" stroke="#111" stroke-width="0.08">4</text>
<line x1="397.9" y1="344.15" x2="402.5" y2="344.15" stroke="#999" stroke-width="0.8" />
<text transform="translate(388.9,344.15) scale(1.5,1) rotate(-90)" font-size="6" text-anchor="middle" dy="0.35em" fill="#111" stroke="#111" stroke-width="0.08">5</text>
<line x1="471.3" y1="498.4" x2="471.3" y2="502" stroke="#777" stroke-width="1" />
<text transform="translate(471.3,511.1) scale(1.38,1)" font-size="5.5" text-anchor="middle" fill="#222" stroke="#222" stroke-width="0.05">PRAD</text>
<text transform="translate(471.3,518.7) scale(1.38,1)" font-size="5.5" text-anchor="middle" fill="#222" stroke="#222" stroke-width="0.05">(num(T)=492; num(N)=152)</text>
<line x1="589.3" y1="498.4" x2="589.3" y2="502" stroke="#777" stroke-width="1" />
<text transform="translate(589.3,511.1) scale(1.38,1)" font-size="5.5" text-anchor="middle" fill="#222" stroke="#222" stroke-width="0.05">OV</text>
<text transform="translate(589.3,518.7) scale(1.38,1)" font-size="5.5" text-anchor="middle" fill="#222" stroke="#222" stroke-width="0.05">(num(T)=426; num(N)=88)</text>
<text transform="translate(370.6,407.85) scale(1.05,1) rotate(-90)" font-size="6.4" text-anchor="middle" fill="#111" stroke="#111" stroke-width="0.12">Expression − log<tspan font-size="4.48" dy="1.41">2</tspan><tspan dy="-1.41" font-weight="bold" font-size="7.68" stroke-width="0.45">[</tspan><tspan font-size="5.63" dy="0.38">TPM+1</tspan><tspan font-weight="bold" font-size="7.68" stroke-width="0.45" dy="-0.38">]</tspan></text>
<text transform="translate(7.4,14.4) scale(0.91,1)" font-size="14.5" style="font-family:'Liberation Serif',serif;font-weight:bold" fill="#000">A</text>
<text transform="translate(362.6,13.9) scale(0.91,1)" font-size="13.6" style="font-family:'Liberation Serif',serif;font-weight:bold" fill="#000">B</text>
<text transform="translate(7.8,294.7) scale(0.91,1)" font-size="14.5" style="font-family:'Liberation Serif',serif;font-weight:bold" fill="#000">C</text>
<text transform="translate(362.2,294.7) scale(0.91,1)" font-size="14.5" style="font-family:'Liberation Serif',serif;font-weight:bold" fill="#000">D</text>
<rect x="0" y="0" width="685" height="1" fill="#777"/>
<rect x="0" y="534" width="685" height="1" fill="#777"/>
<rect x="0" y="533" width="685" height="1" fill="#bbb"/>
<rect x="683" y="0" width="2" height="535" fill="#777"/>
<rect x="0" y="0" width="1" height="535" fill="#c8c8c8"/>
<rect x="1" y="0" width="1" height="535" fill="#9a9a9a"/>
</g>
</svg>
</body></html>
